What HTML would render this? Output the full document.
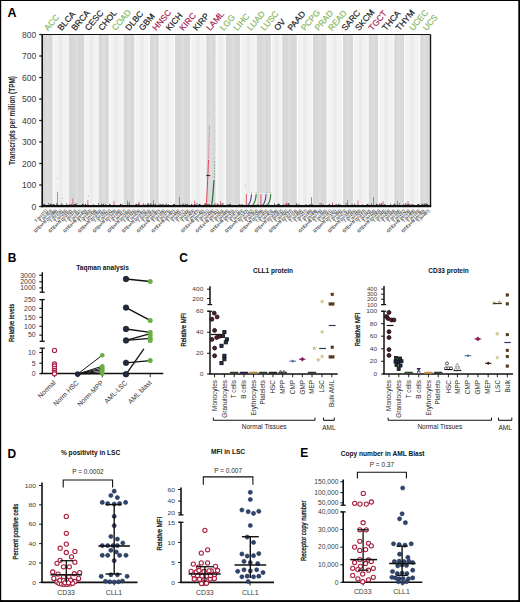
<!DOCTYPE html>
<html><head><meta charset="utf-8"><style>
html,body{margin:0;padding:0;background:#fff;overflow:hidden;}
svg{display:block;font-family:"Liberation Sans", sans-serif;}
</style></head><body>
<svg width="520" height="602" viewBox="0 0 520 602">
<rect x="0" y="0" width="520" height="602" fill="#000"/>
<rect x="1.2" y="1" width="517.1" height="599.1" fill="#fff"/>
<text x="7.60" y="17.40" font-size="12.5" text-anchor="start" fill="#000" font-weight="bold">A</text>
<rect x="42.20" y="34.50" width="388.30" height="172.00" fill="#f2f2f2"/>
<rect x="59.05" y="34.50" width="3.20" height="172.00" fill="#ebebeb"/>
<rect x="89.85" y="34.50" width="3.20" height="172.00" fill="#ebebeb"/>
<rect x="114.62" y="34.50" width="3.20" height="172.00" fill="#ebebeb"/>
<rect x="140.50" y="34.50" width="3.20" height="172.00" fill="#ebebeb"/>
<rect x="165.28" y="34.50" width="3.20" height="172.00" fill="#ebebeb"/>
<rect x="196.55" y="34.50" width="3.20" height="172.00" fill="#ebebeb"/>
<rect x="219.15" y="34.50" width="3.20" height="172.00" fill="#ebebeb"/>
<rect x="246.80" y="34.50" width="3.20" height="172.00" fill="#ebebeb"/>
<rect x="274.95" y="34.50" width="3.20" height="172.00" fill="#ebebeb"/>
<rect x="303.25" y="34.50" width="3.20" height="172.00" fill="#ebebeb"/>
<rect x="333.15" y="34.50" width="3.20" height="172.00" fill="#ebebeb"/>
<rect x="359.30" y="34.50" width="3.20" height="172.00" fill="#ebebeb"/>
<rect x="384.55" y="34.50" width="3.20" height="172.00" fill="#ebebeb"/>
<rect x="410.55" y="34.50" width="3.20" height="172.00" fill="#ebebeb"/>
<rect x="41.70" y="34.50" width="1.30" height="172.00" fill="#f9f9f9"/>
<rect x="52.50" y="34.50" width="1.30" height="172.00" fill="#f9f9f9"/>
<rect x="43.00" y="34.50" width="9.50" height="172.00" fill="#d8d8d8"/>
<rect x="46.25" y="34.50" width="3.00" height="172.00" fill="#dddddd"/>
<rect x="67.50" y="34.50" width="1.30" height="172.00" fill="#f9f9f9"/>
<rect x="84.20" y="34.50" width="1.30" height="172.00" fill="#f9f9f9"/>
<rect x="68.80" y="34.50" width="15.40" height="172.00" fill="#d8d8d8"/>
<rect x="75.00" y="34.50" width="3.00" height="172.00" fill="#dddddd"/>
<rect x="97.40" y="34.50" width="1.30" height="172.00" fill="#f9f9f9"/>
<rect x="108.75" y="34.50" width="1.30" height="172.00" fill="#f9f9f9"/>
<rect x="98.70" y="34.50" width="10.05" height="172.00" fill="#d8d8d8"/>
<rect x="102.22" y="34.50" width="3.00" height="172.00" fill="#dddddd"/>
<rect x="122.40" y="34.50" width="1.30" height="172.00" fill="#f9f9f9"/>
<rect x="134.20" y="34.50" width="1.30" height="172.00" fill="#f9f9f9"/>
<rect x="123.70" y="34.50" width="10.50" height="172.00" fill="#d8d8d8"/>
<rect x="127.45" y="34.50" width="3.00" height="172.00" fill="#dddddd"/>
<rect x="148.70" y="34.50" width="1.30" height="172.00" fill="#f9f9f9"/>
<rect x="158.75" y="34.50" width="1.30" height="172.00" fill="#f9f9f9"/>
<rect x="150.00" y="34.50" width="8.75" height="172.00" fill="#d8d8d8"/>
<rect x="152.88" y="34.50" width="3.00" height="172.00" fill="#dddddd"/>
<rect x="173.70" y="34.50" width="1.30" height="172.00" fill="#f9f9f9"/>
<rect x="190.00" y="34.50" width="1.30" height="172.00" fill="#f9f9f9"/>
<rect x="175.00" y="34.50" width="15.00" height="172.00" fill="#d8d8d8"/>
<rect x="181.00" y="34.50" width="3.00" height="172.00" fill="#dddddd"/>
<rect x="205.00" y="34.50" width="1.30" height="172.00" fill="#f9f9f9"/>
<rect x="215.50" y="34.50" width="1.30" height="172.00" fill="#f9f9f9"/>
<rect x="206.30" y="34.50" width="9.20" height="172.00" fill="#d8d8d8"/>
<rect x="209.40" y="34.50" width="3.00" height="172.00" fill="#dddddd"/>
<rect x="224.70" y="34.50" width="1.30" height="172.00" fill="#f9f9f9"/>
<rect x="240.00" y="34.50" width="1.30" height="172.00" fill="#f9f9f9"/>
<rect x="226.00" y="34.50" width="14.00" height="172.00" fill="#d8d8d8"/>
<rect x="231.50" y="34.50" width="3.00" height="172.00" fill="#dddddd"/>
<rect x="255.50" y="34.50" width="1.30" height="172.00" fill="#f9f9f9"/>
<rect x="270.80" y="34.50" width="1.30" height="172.00" fill="#f9f9f9"/>
<rect x="256.80" y="34.50" width="14.00" height="172.00" fill="#d8d8d8"/>
<rect x="262.30" y="34.50" width="3.00" height="172.00" fill="#dddddd"/>
<rect x="281.00" y="34.50" width="1.30" height="172.00" fill="#f9f9f9"/>
<rect x="296.70" y="34.50" width="1.30" height="172.00" fill="#f9f9f9"/>
<rect x="282.30" y="34.50" width="14.40" height="172.00" fill="#d8d8d8"/>
<rect x="288.00" y="34.50" width="3.00" height="172.00" fill="#dddddd"/>
<rect x="311.70" y="34.50" width="1.30" height="172.00" fill="#f9f9f9"/>
<rect x="326.50" y="34.50" width="1.30" height="172.00" fill="#f9f9f9"/>
<rect x="313.00" y="34.50" width="13.50" height="172.00" fill="#d8d8d8"/>
<rect x="318.25" y="34.50" width="3.00" height="172.00" fill="#dddddd"/>
<rect x="341.70" y="34.50" width="1.30" height="172.00" fill="#f9f9f9"/>
<rect x="353.00" y="34.50" width="1.30" height="172.00" fill="#f9f9f9"/>
<rect x="343.00" y="34.50" width="10.00" height="172.00" fill="#d8d8d8"/>
<rect x="346.50" y="34.50" width="3.00" height="172.00" fill="#dddddd"/>
<rect x="367.50" y="34.50" width="1.30" height="172.00" fill="#f9f9f9"/>
<rect x="378.00" y="34.50" width="1.30" height="172.00" fill="#f9f9f9"/>
<rect x="368.80" y="34.50" width="9.20" height="172.00" fill="#d8d8d8"/>
<rect x="371.90" y="34.50" width="3.00" height="172.00" fill="#dddddd"/>
<rect x="393.00" y="34.50" width="1.30" height="172.00" fill="#f9f9f9"/>
<rect x="404.00" y="34.50" width="1.30" height="172.00" fill="#f9f9f9"/>
<rect x="394.30" y="34.50" width="9.70" height="172.00" fill="#d8d8d8"/>
<rect x="397.65" y="34.50" width="3.00" height="172.00" fill="#dddddd"/>
<rect x="419.00" y="34.50" width="1.30" height="172.00" fill="#f9f9f9"/>
<rect x="429.40" y="34.50" width="1.30" height="172.00" fill="#f9f9f9"/>
<rect x="420.30" y="34.50" width="9.10" height="172.00" fill="#d8d8d8"/>
<rect x="423.35" y="34.50" width="3.00" height="172.00" fill="#dddddd"/>
<line x1="39.20" y1="206.50" x2="42.20" y2="206.50" stroke="#222" stroke-width="1.3"/>
<text x="36.20" y="209.50" font-size="8.5" text-anchor="end" fill="#3c3c3c">0</text>
<line x1="39.20" y1="185.00" x2="42.20" y2="185.00" stroke="#222" stroke-width="1.3"/>
<text x="36.20" y="188.00" font-size="8.5" text-anchor="end" fill="#3c3c3c">100</text>
<line x1="39.20" y1="163.50" x2="42.20" y2="163.50" stroke="#222" stroke-width="1.3"/>
<text x="36.20" y="166.50" font-size="8.5" text-anchor="end" fill="#3c3c3c">200</text>
<line x1="39.20" y1="142.00" x2="42.20" y2="142.00" stroke="#222" stroke-width="1.3"/>
<text x="36.20" y="145.00" font-size="8.5" text-anchor="end" fill="#3c3c3c">300</text>
<line x1="39.20" y1="120.50" x2="42.20" y2="120.50" stroke="#222" stroke-width="1.3"/>
<text x="36.20" y="123.50" font-size="8.5" text-anchor="end" fill="#3c3c3c">400</text>
<line x1="39.20" y1="99.00" x2="42.20" y2="99.00" stroke="#222" stroke-width="1.3"/>
<text x="36.20" y="102.00" font-size="8.5" text-anchor="end" fill="#3c3c3c">500</text>
<line x1="39.20" y1="77.50" x2="42.20" y2="77.50" stroke="#222" stroke-width="1.3"/>
<text x="36.20" y="80.50" font-size="8.5" text-anchor="end" fill="#3c3c3c">600</text>
<line x1="39.20" y1="56.00" x2="42.20" y2="56.00" stroke="#222" stroke-width="1.3"/>
<text x="36.20" y="59.00" font-size="8.5" text-anchor="end" fill="#3c3c3c">700</text>
<line x1="39.20" y1="34.50" x2="42.20" y2="34.50" stroke="#222" stroke-width="1.3"/>
<text x="36.20" y="37.50" font-size="8.5" text-anchor="end" fill="#3c3c3c">800</text>
<text x="15.30" y="120.50" font-size="9.4" text-anchor="middle" fill="#262626" font-weight="bold" transform="rotate(-90 15.30 120.50)" textLength="89.00" lengthAdjust="spacingAndGlyphs">Transcripts per million (TPM)</text>
<text x="48.10" y="31.30" font-size="8.5" text-anchor="start" fill="#86b862" transform="rotate(-50 48.10 31.30)" stroke="#86b862" stroke-width="0.2">ACC</text>
<text x="61.62" y="31.30" font-size="8.5" text-anchor="start" fill="#1a1a1a" transform="rotate(-50 61.62 31.30)" stroke="#1a1a1a" stroke-width="0.2">BLCA</text>
<text x="75.14" y="31.30" font-size="8.5" text-anchor="start" fill="#1a1a1a" transform="rotate(-50 75.14 31.30)" stroke="#1a1a1a" stroke-width="0.2">BRCA</text>
<text x="88.66" y="31.30" font-size="8.5" text-anchor="start" fill="#1a1a1a" transform="rotate(-50 88.66 31.30)" stroke="#1a1a1a" stroke-width="0.2">CESC</text>
<text x="102.18" y="31.30" font-size="8.5" text-anchor="start" fill="#1a1a1a" transform="rotate(-50 102.18 31.30)" stroke="#1a1a1a" stroke-width="0.2">CHOL</text>
<text x="115.70" y="31.30" font-size="8.5" text-anchor="start" fill="#86b862" transform="rotate(-50 115.70 31.30)" stroke="#86b862" stroke-width="0.2">COAD</text>
<text x="129.22" y="31.30" font-size="8.5" text-anchor="start" fill="#1a1a1a" transform="rotate(-50 129.22 31.30)" stroke="#1a1a1a" stroke-width="0.2">DLBC</text>
<text x="142.74" y="31.30" font-size="8.5" text-anchor="start" fill="#1a1a1a" transform="rotate(-50 142.74 31.30)" stroke="#1a1a1a" stroke-width="0.2">GBM</text>
<text x="156.26" y="31.30" font-size="8.5" text-anchor="start" fill="#a8234f" transform="rotate(-50 156.26 31.30)" stroke="#a8234f" stroke-width="0.2">HNSC</text>
<text x="169.78" y="31.30" font-size="8.5" text-anchor="start" fill="#1a1a1a" transform="rotate(-50 169.78 31.30)" stroke="#1a1a1a" stroke-width="0.2">KICH</text>
<text x="183.30" y="31.30" font-size="8.5" text-anchor="start" fill="#a8234f" transform="rotate(-50 183.30 31.30)" stroke="#a8234f" stroke-width="0.2">KIRC</text>
<text x="196.82" y="31.30" font-size="8.5" text-anchor="start" fill="#1a1a1a" transform="rotate(-50 196.82 31.30)" stroke="#1a1a1a" stroke-width="0.2">KIRP</text>
<text x="210.34" y="31.30" font-size="8.5" text-anchor="start" fill="#a8234f" transform="rotate(-50 210.34 31.30)" stroke="#a8234f" stroke-width="0.2">LAML</text>
<text x="223.86" y="31.30" font-size="8.5" text-anchor="start" fill="#86b862" transform="rotate(-50 223.86 31.30)" stroke="#86b862" stroke-width="0.2">LGG</text>
<text x="237.38" y="31.30" font-size="8.5" text-anchor="start" fill="#86b862" transform="rotate(-50 237.38 31.30)" stroke="#86b862" stroke-width="0.2">LIHC</text>
<text x="250.90" y="31.30" font-size="8.5" text-anchor="start" fill="#86b862" transform="rotate(-50 250.90 31.30)" stroke="#86b862" stroke-width="0.2">LUAD</text>
<text x="264.42" y="31.30" font-size="8.5" text-anchor="start" fill="#86b862" transform="rotate(-50 264.42 31.30)" stroke="#86b862" stroke-width="0.2">LUSC</text>
<text x="277.94" y="31.30" font-size="8.5" text-anchor="start" fill="#1a1a1a" transform="rotate(-50 277.94 31.30)" stroke="#1a1a1a" stroke-width="0.2">OV</text>
<text x="291.46" y="31.30" font-size="8.5" text-anchor="start" fill="#1a1a1a" transform="rotate(-50 291.46 31.30)" stroke="#1a1a1a" stroke-width="0.2">PAAD</text>
<text x="304.98" y="31.30" font-size="8.5" text-anchor="start" fill="#86b862" transform="rotate(-50 304.98 31.30)" stroke="#86b862" stroke-width="0.2">PCPG</text>
<text x="318.50" y="31.30" font-size="8.5" text-anchor="start" fill="#86b862" transform="rotate(-50 318.50 31.30)" stroke="#86b862" stroke-width="0.2">PRAD</text>
<text x="332.02" y="31.30" font-size="8.5" text-anchor="start" fill="#86b862" transform="rotate(-50 332.02 31.30)" stroke="#86b862" stroke-width="0.2">READ</text>
<text x="345.54" y="31.30" font-size="8.5" text-anchor="start" fill="#1a1a1a" transform="rotate(-50 345.54 31.30)" stroke="#1a1a1a" stroke-width="0.2">SARC</text>
<text x="359.06" y="31.30" font-size="8.5" text-anchor="start" fill="#1a1a1a" transform="rotate(-50 359.06 31.30)" stroke="#1a1a1a" stroke-width="0.2">SKCM</text>
<text x="372.58" y="31.30" font-size="8.5" text-anchor="start" fill="#a8234f" transform="rotate(-50 372.58 31.30)" stroke="#a8234f" stroke-width="0.2">TGCT</text>
<text x="386.10" y="31.30" font-size="8.5" text-anchor="start" fill="#1a1a1a" transform="rotate(-50 386.10 31.30)" stroke="#1a1a1a" stroke-width="0.2">THCA</text>
<text x="399.62" y="31.30" font-size="8.5" text-anchor="start" fill="#1a1a1a" transform="rotate(-50 399.62 31.30)" stroke="#1a1a1a" stroke-width="0.2">THYM</text>
<text x="413.14" y="31.30" font-size="8.5" text-anchor="start" fill="#86b862" transform="rotate(-50 413.14 31.30)" stroke="#86b862" stroke-width="0.2">UCEC</text>
<text x="426.66" y="31.30" font-size="8.5" text-anchor="start" fill="#86b862" transform="rotate(-50 426.66 31.30)" stroke="#86b862" stroke-width="0.2">UCS</text>
<text x="47.80" y="211.20" font-size="4.7" text-anchor="end" fill="#444" font-weight="bold" transform="rotate(-45 47.80 211.20)" textLength="16.00" lengthAdjust="spacingAndGlyphs">T (n=171)</text>
<text x="52.70" y="211.20" font-size="4.7" text-anchor="end" fill="#444" font-weight="bold" transform="rotate(-45 52.70 211.20)" textLength="16.00" lengthAdjust="spacingAndGlyphs">T (n=353)</text>
<text x="57.60" y="211.20" font-size="4.7" text-anchor="end" fill="#444" font-weight="bold" transform="rotate(-45 57.60 211.20)" textLength="31.00" lengthAdjust="spacingAndGlyphs">GTEx+N (n=288)</text>
<text x="62.50" y="211.20" font-size="4.7" text-anchor="end" fill="#444" font-weight="bold" transform="rotate(-45 62.50 211.20)" textLength="16.00" lengthAdjust="spacingAndGlyphs">T (n=116)</text>
<text x="67.40" y="211.20" font-size="4.7" text-anchor="end" fill="#444" font-weight="bold" transform="rotate(-45 67.40 211.20)" textLength="16.00" lengthAdjust="spacingAndGlyphs">T (n=239)</text>
<text x="72.30" y="211.20" font-size="4.7" text-anchor="end" fill="#444" font-weight="bold" transform="rotate(-45 72.30 211.20)" textLength="31.00" lengthAdjust="spacingAndGlyphs">GTEx+N (n=252)</text>
<text x="77.20" y="211.20" font-size="4.7" text-anchor="end" fill="#444" font-weight="bold" transform="rotate(-45 77.20 211.20)" textLength="16.00" lengthAdjust="spacingAndGlyphs">T (n=370)</text>
<text x="82.10" y="211.20" font-size="4.7" text-anchor="end" fill="#444" font-weight="bold" transform="rotate(-45 82.10 211.20)" textLength="16.00" lengthAdjust="spacingAndGlyphs">T (n=347)</text>
<text x="87.00" y="211.20" font-size="4.7" text-anchor="end" fill="#444" font-weight="bold" transform="rotate(-45 87.00 211.20)" textLength="31.00" lengthAdjust="spacingAndGlyphs">GTEx+N (n=43)</text>
<text x="91.90" y="211.20" font-size="4.7" text-anchor="end" fill="#444" font-weight="bold" transform="rotate(-45 91.90 211.20)" textLength="16.00" lengthAdjust="spacingAndGlyphs">T (n=360)</text>
<text x="96.80" y="211.20" font-size="4.7" text-anchor="end" fill="#444" font-weight="bold" transform="rotate(-45 96.80 211.20)" textLength="16.00" lengthAdjust="spacingAndGlyphs">T (n=56)</text>
<text x="101.70" y="211.20" font-size="4.7" text-anchor="end" fill="#444" font-weight="bold" transform="rotate(-45 101.70 211.20)" textLength="31.00" lengthAdjust="spacingAndGlyphs">GTEx+N (n=250)</text>
<text x="106.60" y="211.20" font-size="4.7" text-anchor="end" fill="#444" font-weight="bold" transform="rotate(-45 106.60 211.20)" textLength="16.00" lengthAdjust="spacingAndGlyphs">T (n=182)</text>
<text x="111.50" y="211.20" font-size="4.7" text-anchor="end" fill="#444" font-weight="bold" transform="rotate(-45 111.50 211.20)" textLength="16.00" lengthAdjust="spacingAndGlyphs">T (n=332)</text>
<text x="116.40" y="211.20" font-size="4.7" text-anchor="end" fill="#444" font-weight="bold" transform="rotate(-45 116.40 211.20)" textLength="31.00" lengthAdjust="spacingAndGlyphs">GTEx+N (n=129)</text>
<text x="121.30" y="211.20" font-size="4.7" text-anchor="end" fill="#444" font-weight="bold" transform="rotate(-45 121.30 211.20)" textLength="16.00" lengthAdjust="spacingAndGlyphs">T (n=148)</text>
<text x="126.20" y="211.20" font-size="4.7" text-anchor="end" fill="#444" font-weight="bold" transform="rotate(-45 126.20 211.20)" textLength="16.00" lengthAdjust="spacingAndGlyphs">T (n=417)</text>
<text x="131.10" y="211.20" font-size="4.7" text-anchor="end" fill="#444" font-weight="bold" transform="rotate(-45 131.10 211.20)" textLength="31.00" lengthAdjust="spacingAndGlyphs">GTEx+N (n=250)</text>
<text x="136.00" y="211.20" font-size="4.7" text-anchor="end" fill="#444" font-weight="bold" transform="rotate(-45 136.00 211.20)" textLength="16.00" lengthAdjust="spacingAndGlyphs">T (n=326)</text>
<text x="140.90" y="211.20" font-size="4.7" text-anchor="end" fill="#444" font-weight="bold" transform="rotate(-45 140.90 211.20)" textLength="16.00" lengthAdjust="spacingAndGlyphs">T (n=478)</text>
<text x="145.80" y="211.20" font-size="4.7" text-anchor="end" fill="#444" font-weight="bold" transform="rotate(-45 145.80 211.20)" textLength="31.00" lengthAdjust="spacingAndGlyphs">GTEx+N (n=291)</text>
<text x="150.70" y="211.20" font-size="4.7" text-anchor="end" fill="#444" font-weight="bold" transform="rotate(-45 150.70 211.20)" textLength="16.00" lengthAdjust="spacingAndGlyphs">T (n=293)</text>
<text x="155.60" y="211.20" font-size="4.7" text-anchor="end" fill="#444" font-weight="bold" transform="rotate(-45 155.60 211.20)" textLength="16.00" lengthAdjust="spacingAndGlyphs">T (n=253)</text>
<text x="160.50" y="211.20" font-size="4.7" text-anchor="end" fill="#444" font-weight="bold" transform="rotate(-45 160.50 211.20)" textLength="31.00" lengthAdjust="spacingAndGlyphs">GTEx+N (n=87)</text>
<text x="165.40" y="211.20" font-size="4.7" text-anchor="end" fill="#444" font-weight="bold" transform="rotate(-45 165.40 211.20)" textLength="16.00" lengthAdjust="spacingAndGlyphs">T (n=168)</text>
<text x="170.30" y="211.20" font-size="4.7" text-anchor="end" fill="#444" font-weight="bold" transform="rotate(-45 170.30 211.20)" textLength="16.00" lengthAdjust="spacingAndGlyphs">T (n=375)</text>
<text x="175.20" y="211.20" font-size="4.7" text-anchor="end" fill="#444" font-weight="bold" transform="rotate(-45 175.20 211.20)" textLength="31.00" lengthAdjust="spacingAndGlyphs">GTEx+N (n=87)</text>
<text x="180.10" y="211.20" font-size="4.7" text-anchor="end" fill="#444" font-weight="bold" transform="rotate(-45 180.10 211.20)" textLength="16.00" lengthAdjust="spacingAndGlyphs">T (n=494)</text>
<text x="185.00" y="211.20" font-size="4.7" text-anchor="end" fill="#444" font-weight="bold" transform="rotate(-45 185.00 211.20)" textLength="16.00" lengthAdjust="spacingAndGlyphs">T (n=317)</text>
<text x="189.90" y="211.20" font-size="4.7" text-anchor="end" fill="#444" font-weight="bold" transform="rotate(-45 189.90 211.20)" textLength="16.00" lengthAdjust="spacingAndGlyphs">T (n=249)</text>
<text x="194.80" y="211.20" font-size="4.7" text-anchor="end" fill="#444" font-weight="bold" transform="rotate(-45 194.80 211.20)" textLength="16.00" lengthAdjust="spacingAndGlyphs">T (n=429)</text>
<text x="199.70" y="211.20" font-size="4.7" text-anchor="end" fill="#444" font-weight="bold" transform="rotate(-45 199.70 211.20)" textLength="16.00" lengthAdjust="spacingAndGlyphs">T (n=57)</text>
<text x="204.60" y="211.20" font-size="4.7" text-anchor="end" fill="#444" font-weight="bold" transform="rotate(-45 204.60 211.20)" textLength="31.00" lengthAdjust="spacingAndGlyphs">GTEx+N (n=42)</text>
<text x="209.50" y="211.20" font-size="4.7" text-anchor="end" fill="#444" font-weight="bold" transform="rotate(-45 209.50 211.20)" textLength="16.00" lengthAdjust="spacingAndGlyphs">T (n=131)</text>
<text x="214.40" y="211.20" font-size="4.7" text-anchor="end" fill="#444" font-weight="bold" transform="rotate(-45 214.40 211.20)" textLength="16.00" lengthAdjust="spacingAndGlyphs">T (n=438)</text>
<text x="219.30" y="211.20" font-size="4.7" text-anchor="end" fill="#444" font-weight="bold" transform="rotate(-45 219.30 211.20)" textLength="31.00" lengthAdjust="spacingAndGlyphs">GTEx+N (n=31)</text>
<text x="224.20" y="211.20" font-size="4.7" text-anchor="end" fill="#444" font-weight="bold" transform="rotate(-45 224.20 211.20)" textLength="16.00" lengthAdjust="spacingAndGlyphs">T (n=204)</text>
<text x="229.10" y="211.20" font-size="4.7" text-anchor="end" fill="#444" font-weight="bold" transform="rotate(-45 229.10 211.20)" textLength="16.00" lengthAdjust="spacingAndGlyphs">T (n=449)</text>
<text x="234.00" y="211.20" font-size="4.7" text-anchor="end" fill="#444" font-weight="bold" transform="rotate(-45 234.00 211.20)" textLength="31.00" lengthAdjust="spacingAndGlyphs">GTEx+N (n=25)</text>
<text x="238.90" y="211.20" font-size="4.7" text-anchor="end" fill="#444" font-weight="bold" transform="rotate(-45 238.90 211.20)" textLength="16.00" lengthAdjust="spacingAndGlyphs">T (n=471)</text>
<text x="243.80" y="211.20" font-size="4.7" text-anchor="end" fill="#444" font-weight="bold" transform="rotate(-45 243.80 211.20)" textLength="16.00" lengthAdjust="spacingAndGlyphs">T (n=493)</text>
<text x="248.70" y="211.20" font-size="4.7" text-anchor="end" fill="#444" font-weight="bold" transform="rotate(-45 248.70 211.20)" textLength="31.00" lengthAdjust="spacingAndGlyphs">GTEx+N (n=147)</text>
<text x="253.60" y="211.20" font-size="4.7" text-anchor="end" fill="#444" font-weight="bold" transform="rotate(-45 253.60 211.20)" textLength="16.00" lengthAdjust="spacingAndGlyphs">T (n=292)</text>
<text x="258.50" y="211.20" font-size="4.7" text-anchor="end" fill="#444" font-weight="bold" transform="rotate(-45 258.50 211.20)" textLength="16.00" lengthAdjust="spacingAndGlyphs">T (n=354)</text>
<text x="263.40" y="211.20" font-size="4.7" text-anchor="end" fill="#444" font-weight="bold" transform="rotate(-45 263.40 211.20)" textLength="31.00" lengthAdjust="spacingAndGlyphs">GTEx+N (n=208)</text>
<text x="268.30" y="211.20" font-size="4.7" text-anchor="end" fill="#444" font-weight="bold" transform="rotate(-45 268.30 211.20)" textLength="16.00" lengthAdjust="spacingAndGlyphs">T (n=415)</text>
<text x="273.20" y="211.20" font-size="4.7" text-anchor="end" fill="#444" font-weight="bold" transform="rotate(-45 273.20 211.20)" textLength="16.00" lengthAdjust="spacingAndGlyphs">T (n=453)</text>
<text x="278.10" y="211.20" font-size="4.7" text-anchor="end" fill="#444" font-weight="bold" transform="rotate(-45 278.10 211.20)" textLength="31.00" lengthAdjust="spacingAndGlyphs">GTEx+N (n=228)</text>
<text x="283.00" y="211.20" font-size="4.7" text-anchor="end" fill="#444" font-weight="bold" transform="rotate(-45 283.00 211.20)" textLength="16.00" lengthAdjust="spacingAndGlyphs">T (n=252)</text>
<text x="287.90" y="211.20" font-size="4.7" text-anchor="end" fill="#444" font-weight="bold" transform="rotate(-45 287.90 211.20)" textLength="16.00" lengthAdjust="spacingAndGlyphs">T (n=422)</text>
<text x="292.80" y="211.20" font-size="4.7" text-anchor="end" fill="#444" font-weight="bold" transform="rotate(-45 292.80 211.20)" textLength="31.00" lengthAdjust="spacingAndGlyphs">GTEx+N (n=237)</text>
<text x="297.70" y="211.20" font-size="4.7" text-anchor="end" fill="#444" font-weight="bold" transform="rotate(-45 297.70 211.20)" textLength="16.00" lengthAdjust="spacingAndGlyphs">T (n=118)</text>
<text x="302.60" y="211.20" font-size="4.7" text-anchor="end" fill="#444" font-weight="bold" transform="rotate(-45 302.60 211.20)" textLength="16.00" lengthAdjust="spacingAndGlyphs">T (n=499)</text>
<text x="307.50" y="211.20" font-size="4.7" text-anchor="end" fill="#444" font-weight="bold" transform="rotate(-45 307.50 211.20)" textLength="16.00" lengthAdjust="spacingAndGlyphs">T (n=237)</text>
<text x="312.40" y="211.20" font-size="4.7" text-anchor="end" fill="#444" font-weight="bold" transform="rotate(-45 312.40 211.20)" textLength="16.00" lengthAdjust="spacingAndGlyphs">T (n=99)</text>
<text x="317.30" y="211.20" font-size="4.7" text-anchor="end" fill="#444" font-weight="bold" transform="rotate(-45 317.30 211.20)" textLength="16.00" lengthAdjust="spacingAndGlyphs">T (n=68)</text>
<text x="322.20" y="211.20" font-size="4.7" text-anchor="end" fill="#444" font-weight="bold" transform="rotate(-45 322.20 211.20)" textLength="31.00" lengthAdjust="spacingAndGlyphs">GTEx+N (n=79)</text>
<text x="327.10" y="211.20" font-size="4.7" text-anchor="end" fill="#444" font-weight="bold" transform="rotate(-45 327.10 211.20)" textLength="16.00" lengthAdjust="spacingAndGlyphs">T (n=303)</text>
<text x="332.00" y="211.20" font-size="4.7" text-anchor="end" fill="#444" font-weight="bold" transform="rotate(-45 332.00 211.20)" textLength="16.00" lengthAdjust="spacingAndGlyphs">T (n=161)</text>
<text x="336.90" y="211.20" font-size="4.7" text-anchor="end" fill="#444" font-weight="bold" transform="rotate(-45 336.90 211.20)" textLength="31.00" lengthAdjust="spacingAndGlyphs">GTEx+N (n=142)</text>
<text x="341.80" y="211.20" font-size="4.7" text-anchor="end" fill="#444" font-weight="bold" transform="rotate(-45 341.80 211.20)" textLength="16.00" lengthAdjust="spacingAndGlyphs">T (n=394)</text>
<text x="346.70" y="211.20" font-size="4.7" text-anchor="end" fill="#444" font-weight="bold" transform="rotate(-45 346.70 211.20)" textLength="16.00" lengthAdjust="spacingAndGlyphs">T (n=273)</text>
<text x="351.60" y="211.20" font-size="4.7" text-anchor="end" fill="#444" font-weight="bold" transform="rotate(-45 351.60 211.20)" textLength="31.00" lengthAdjust="spacingAndGlyphs">GTEx+N (n=164)</text>
<text x="356.50" y="211.20" font-size="4.7" text-anchor="end" fill="#444" font-weight="bold" transform="rotate(-45 356.50 211.20)" textLength="16.00" lengthAdjust="spacingAndGlyphs">T (n=265)</text>
<text x="361.40" y="211.20" font-size="4.7" text-anchor="end" fill="#444" font-weight="bold" transform="rotate(-45 361.40 211.20)" textLength="16.00" lengthAdjust="spacingAndGlyphs">T (n=309)</text>
<text x="366.30" y="211.20" font-size="4.7" text-anchor="end" fill="#444" font-weight="bold" transform="rotate(-45 366.30 211.20)" textLength="31.00" lengthAdjust="spacingAndGlyphs">GTEx+N (n=207)</text>
<text x="371.20" y="211.20" font-size="4.7" text-anchor="end" fill="#444" font-weight="bold" transform="rotate(-45 371.20 211.20)" textLength="16.00" lengthAdjust="spacingAndGlyphs">T (n=343)</text>
<text x="376.10" y="211.20" font-size="4.7" text-anchor="end" fill="#444" font-weight="bold" transform="rotate(-45 376.10 211.20)" textLength="16.00" lengthAdjust="spacingAndGlyphs">T (n=229)</text>
<text x="381.00" y="211.20" font-size="4.7" text-anchor="end" fill="#444" font-weight="bold" transform="rotate(-45 381.00 211.20)" textLength="31.00" lengthAdjust="spacingAndGlyphs">GTEx+N (n=283)</text>
<text x="385.90" y="211.20" font-size="4.7" text-anchor="end" fill="#444" font-weight="bold" transform="rotate(-45 385.90 211.20)" textLength="16.00" lengthAdjust="spacingAndGlyphs">T (n=349)</text>
<text x="390.80" y="211.20" font-size="4.7" text-anchor="end" fill="#444" font-weight="bold" transform="rotate(-45 390.80 211.20)" textLength="16.00" lengthAdjust="spacingAndGlyphs">T (n=258)</text>
<text x="395.70" y="211.20" font-size="4.7" text-anchor="end" fill="#444" font-weight="bold" transform="rotate(-45 395.70 211.20)" textLength="16.00" lengthAdjust="spacingAndGlyphs">T (n=349)</text>
<text x="400.60" y="211.20" font-size="4.7" text-anchor="end" fill="#444" font-weight="bold" transform="rotate(-45 400.60 211.20)" textLength="16.00" lengthAdjust="spacingAndGlyphs">T (n=168)</text>
<text x="405.50" y="211.20" font-size="4.7" text-anchor="end" fill="#444" font-weight="bold" transform="rotate(-45 405.50 211.20)" textLength="16.00" lengthAdjust="spacingAndGlyphs">T (n=222)</text>
<text x="410.40" y="211.20" font-size="4.7" text-anchor="end" fill="#444" font-weight="bold" transform="rotate(-45 410.40 211.20)" textLength="31.00" lengthAdjust="spacingAndGlyphs">GTEx+N (n=24)</text>
<text x="415.30" y="211.20" font-size="4.7" text-anchor="end" fill="#444" font-weight="bold" transform="rotate(-45 415.30 211.20)" textLength="16.00" lengthAdjust="spacingAndGlyphs">T (n=488)</text>
<text x="420.20" y="211.20" font-size="4.7" text-anchor="end" fill="#444" font-weight="bold" transform="rotate(-45 420.20 211.20)" textLength="16.00" lengthAdjust="spacingAndGlyphs">T (n=193)</text>
<text x="425.10" y="211.20" font-size="4.7" text-anchor="end" fill="#444" font-weight="bold" transform="rotate(-45 425.10 211.20)" textLength="31.00" lengthAdjust="spacingAndGlyphs">GTEx+N (n=93)</text>
<text x="430.00" y="211.20" font-size="4.7" text-anchor="end" fill="#444" font-weight="bold" transform="rotate(-45 430.00 211.20)" textLength="16.00" lengthAdjust="spacingAndGlyphs">T (n=407)</text>
<circle cx="168.30" cy="204.82" r="0.6" fill="#222" stroke="none" stroke-width="1"/>
<circle cx="71.18" cy="204.36" r="0.6" fill="#5a2a3a" stroke="none" stroke-width="1"/>
<circle cx="268.33" cy="203.91" r="0.6" fill="#333" stroke="none" stroke-width="1"/>
<circle cx="57.68" cy="204.48" r="0.6" fill="#222" stroke="none" stroke-width="1"/>
<circle cx="136.17" cy="204.34" r="0.6" fill="#222" stroke="none" stroke-width="1"/>
<circle cx="362.61" cy="204.85" r="0.6" fill="#333" stroke="none" stroke-width="1"/>
<circle cx="286.81" cy="204.30" r="0.6" fill="#222" stroke="none" stroke-width="1"/>
<circle cx="266.13" cy="204.52" r="0.6" fill="#333" stroke="none" stroke-width="1"/>
<circle cx="61.19" cy="203.97" r="0.6" fill="#5a2a3a" stroke="none" stroke-width="1"/>
<circle cx="205.11" cy="204.35" r="0.6" fill="#444" stroke="none" stroke-width="1"/>
<circle cx="162.37" cy="204.02" r="0.6" fill="#333" stroke="none" stroke-width="1"/>
<circle cx="83.01" cy="204.31" r="0.6" fill="#333" stroke="none" stroke-width="1"/>
<circle cx="187.06" cy="204.34" r="0.6" fill="#222" stroke="none" stroke-width="1"/>
<circle cx="261.22" cy="204.26" r="0.6" fill="#2a3a2a" stroke="none" stroke-width="1"/>
<circle cx="306.04" cy="204.49" r="0.6" fill="#5a2a3a" stroke="none" stroke-width="1"/>
<circle cx="223.06" cy="203.89" r="0.6" fill="#5a2a3a" stroke="none" stroke-width="1"/>
<circle cx="159.00" cy="204.05" r="0.6" fill="#333" stroke="none" stroke-width="1"/>
<circle cx="74.82" cy="204.64" r="0.6" fill="#2a3a2a" stroke="none" stroke-width="1"/>
<circle cx="381.27" cy="204.12" r="0.6" fill="#5a2a3a" stroke="none" stroke-width="1"/>
<circle cx="278.44" cy="204.91" r="0.6" fill="#444" stroke="none" stroke-width="1"/>
<circle cx="204.72" cy="204.09" r="0.6" fill="#333" stroke="none" stroke-width="1"/>
<circle cx="403.72" cy="204.49" r="0.6" fill="#222" stroke="none" stroke-width="1"/>
<circle cx="338.55" cy="204.31" r="0.6" fill="#5a2a3a" stroke="none" stroke-width="1"/>
<circle cx="174.59" cy="204.58" r="0.6" fill="#2a3a2a" stroke="none" stroke-width="1"/>
<circle cx="267.21" cy="204.45" r="0.6" fill="#222" stroke="none" stroke-width="1"/>
<circle cx="408.13" cy="204.43" r="0.6" fill="#222" stroke="none" stroke-width="1"/>
<circle cx="66.64" cy="204.16" r="0.6" fill="#444" stroke="none" stroke-width="1"/>
<circle cx="426.83" cy="204.01" r="0.6" fill="#5a2a3a" stroke="none" stroke-width="1"/>
<circle cx="320.03" cy="203.94" r="0.6" fill="#5a2a3a" stroke="none" stroke-width="1"/>
<circle cx="51.92" cy="204.45" r="0.6" fill="#333" stroke="none" stroke-width="1"/>
<circle cx="279.20" cy="204.41" r="0.6" fill="#333" stroke="none" stroke-width="1"/>
<circle cx="339.97" cy="204.84" r="0.6" fill="#333" stroke="none" stroke-width="1"/>
<circle cx="196.91" cy="203.90" r="0.6" fill="#2a3a2a" stroke="none" stroke-width="1"/>
<circle cx="74.33" cy="204.46" r="0.6" fill="#444" stroke="none" stroke-width="1"/>
<circle cx="150.53" cy="204.84" r="0.6" fill="#2a3a2a" stroke="none" stroke-width="1"/>
<circle cx="376.96" cy="204.67" r="0.6" fill="#2a3a2a" stroke="none" stroke-width="1"/>
<circle cx="424.27" cy="204.18" r="0.6" fill="#2a3a2a" stroke="none" stroke-width="1"/>
<circle cx="413.17" cy="204.82" r="0.6" fill="#333" stroke="none" stroke-width="1"/>
<circle cx="101.65" cy="204.21" r="0.6" fill="#222" stroke="none" stroke-width="1"/>
<circle cx="230.54" cy="204.29" r="0.6" fill="#5a2a3a" stroke="none" stroke-width="1"/>
<circle cx="152.11" cy="204.83" r="0.6" fill="#444" stroke="none" stroke-width="1"/>
<circle cx="185.84" cy="204.32" r="0.6" fill="#333" stroke="none" stroke-width="1"/>
<circle cx="309.94" cy="204.38" r="0.6" fill="#444" stroke="none" stroke-width="1"/>
<circle cx="296.21" cy="204.11" r="0.6" fill="#2a3a2a" stroke="none" stroke-width="1"/>
<circle cx="390.69" cy="204.06" r="0.6" fill="#444" stroke="none" stroke-width="1"/>
<circle cx="194.78" cy="204.52" r="0.6" fill="#222" stroke="none" stroke-width="1"/>
<circle cx="229.21" cy="204.52" r="0.6" fill="#333" stroke="none" stroke-width="1"/>
<circle cx="69.22" cy="204.75" r="0.6" fill="#333" stroke="none" stroke-width="1"/>
<circle cx="85.67" cy="204.28" r="0.6" fill="#222" stroke="none" stroke-width="1"/>
<circle cx="43.29" cy="204.82" r="0.6" fill="#222" stroke="none" stroke-width="1"/>
<circle cx="409.78" cy="204.26" r="0.6" fill="#222" stroke="none" stroke-width="1"/>
<circle cx="380.95" cy="204.26" r="0.6" fill="#333" stroke="none" stroke-width="1"/>
<circle cx="288.27" cy="203.85" r="0.6" fill="#444" stroke="none" stroke-width="1"/>
<circle cx="183.88" cy="204.85" r="0.6" fill="#2a3a2a" stroke="none" stroke-width="1"/>
<circle cx="426.84" cy="204.44" r="0.6" fill="#2a3a2a" stroke="none" stroke-width="1"/>
<circle cx="163.67" cy="204.83" r="0.6" fill="#5a2a3a" stroke="none" stroke-width="1"/>
<circle cx="329.20" cy="204.43" r="0.6" fill="#333" stroke="none" stroke-width="1"/>
<circle cx="242.66" cy="204.75" r="0.6" fill="#444" stroke="none" stroke-width="1"/>
<circle cx="182.94" cy="204.17" r="0.6" fill="#222" stroke="none" stroke-width="1"/>
<circle cx="336.07" cy="204.64" r="0.6" fill="#222" stroke="none" stroke-width="1"/>
<circle cx="312.14" cy="204.69" r="0.6" fill="#5a2a3a" stroke="none" stroke-width="1"/>
<circle cx="394.06" cy="204.57" r="0.6" fill="#333" stroke="none" stroke-width="1"/>
<circle cx="248.94" cy="204.07" r="0.6" fill="#5a2a3a" stroke="none" stroke-width="1"/>
<circle cx="289.06" cy="204.26" r="0.6" fill="#333" stroke="none" stroke-width="1"/>
<circle cx="354.59" cy="204.02" r="0.6" fill="#333" stroke="none" stroke-width="1"/>
<circle cx="120.43" cy="204.41" r="0.6" fill="#222" stroke="none" stroke-width="1"/>
<circle cx="425.48" cy="204.05" r="0.6" fill="#2a3a2a" stroke="none" stroke-width="1"/>
<circle cx="143.32" cy="204.17" r="0.6" fill="#5a2a3a" stroke="none" stroke-width="1"/>
<circle cx="215.96" cy="203.88" r="0.6" fill="#5a2a3a" stroke="none" stroke-width="1"/>
<circle cx="412.12" cy="204.56" r="0.6" fill="#333" stroke="none" stroke-width="1"/>
<circle cx="82.66" cy="204.44" r="0.6" fill="#5a2a3a" stroke="none" stroke-width="1"/>
<circle cx="122.15" cy="204.25" r="0.6" fill="#444" stroke="none" stroke-width="1"/>
<circle cx="367.86" cy="204.42" r="0.6" fill="#5a2a3a" stroke="none" stroke-width="1"/>
<circle cx="352.10" cy="204.90" r="0.6" fill="#222" stroke="none" stroke-width="1"/>
<circle cx="394.65" cy="204.06" r="0.6" fill="#333" stroke="none" stroke-width="1"/>
<circle cx="227.86" cy="204.79" r="0.6" fill="#5a2a3a" stroke="none" stroke-width="1"/>
<circle cx="76.71" cy="203.86" r="0.6" fill="#2a3a2a" stroke="none" stroke-width="1"/>
<circle cx="222.12" cy="204.11" r="0.6" fill="#222" stroke="none" stroke-width="1"/>
<circle cx="323.19" cy="204.80" r="0.6" fill="#333" stroke="none" stroke-width="1"/>
<circle cx="53.84" cy="204.29" r="0.6" fill="#2a3a2a" stroke="none" stroke-width="1"/>
<circle cx="354.75" cy="204.82" r="0.6" fill="#444" stroke="none" stroke-width="1"/>
<circle cx="421.89" cy="204.21" r="0.6" fill="#5a2a3a" stroke="none" stroke-width="1"/>
<circle cx="103.43" cy="204.34" r="0.6" fill="#222" stroke="none" stroke-width="1"/>
<circle cx="48.70" cy="203.83" r="0.6" fill="#222" stroke="none" stroke-width="1"/>
<circle cx="246.62" cy="203.88" r="0.6" fill="#2a3a2a" stroke="none" stroke-width="1"/>
<circle cx="424.30" cy="204.77" r="0.6" fill="#333" stroke="none" stroke-width="1"/>
<circle cx="54.01" cy="204.74" r="0.6" fill="#444" stroke="none" stroke-width="1"/>
<circle cx="136.12" cy="204.30" r="0.6" fill="#5a2a3a" stroke="none" stroke-width="1"/>
<circle cx="253.48" cy="204.00" r="0.6" fill="#222" stroke="none" stroke-width="1"/>
<circle cx="394.74" cy="204.58" r="0.6" fill="#2a3a2a" stroke="none" stroke-width="1"/>
<circle cx="299.11" cy="204.02" r="0.6" fill="#444" stroke="none" stroke-width="1"/>
<circle cx="205.69" cy="203.90" r="0.6" fill="#444" stroke="none" stroke-width="1"/>
<circle cx="93.71" cy="204.82" r="0.6" fill="#444" stroke="none" stroke-width="1"/>
<circle cx="50.43" cy="204.47" r="0.6" fill="#333" stroke="none" stroke-width="1"/>
<circle cx="278.28" cy="204.07" r="0.6" fill="#333" stroke="none" stroke-width="1"/>
<circle cx="109.78" cy="204.43" r="0.6" fill="#222" stroke="none" stroke-width="1"/>
<circle cx="258.17" cy="204.61" r="0.6" fill="#444" stroke="none" stroke-width="1"/>
<circle cx="248.22" cy="204.42" r="0.6" fill="#222" stroke="none" stroke-width="1"/>
<circle cx="384.39" cy="204.93" r="0.6" fill="#333" stroke="none" stroke-width="1"/>
<circle cx="150.17" cy="204.07" r="0.6" fill="#444" stroke="none" stroke-width="1"/>
<circle cx="217.88" cy="204.97" r="0.6" fill="#222" stroke="none" stroke-width="1"/>
<circle cx="214.43" cy="204.26" r="0.6" fill="#444" stroke="none" stroke-width="1"/>
<circle cx="277.35" cy="204.76" r="0.6" fill="#5a2a3a" stroke="none" stroke-width="1"/>
<circle cx="217.94" cy="204.36" r="0.6" fill="#2a3a2a" stroke="none" stroke-width="1"/>
<circle cx="239.34" cy="204.70" r="0.6" fill="#444" stroke="none" stroke-width="1"/>
<circle cx="381.81" cy="203.87" r="0.6" fill="#5a2a3a" stroke="none" stroke-width="1"/>
<circle cx="399.67" cy="203.93" r="0.6" fill="#333" stroke="none" stroke-width="1"/>
<circle cx="367.69" cy="204.84" r="0.6" fill="#222" stroke="none" stroke-width="1"/>
<circle cx="194.77" cy="204.62" r="0.6" fill="#333" stroke="none" stroke-width="1"/>
<circle cx="208.67" cy="204.74" r="0.6" fill="#5a2a3a" stroke="none" stroke-width="1"/>
<circle cx="346.03" cy="203.92" r="0.6" fill="#333" stroke="none" stroke-width="1"/>
<circle cx="406.13" cy="204.23" r="0.6" fill="#5a2a3a" stroke="none" stroke-width="1"/>
<circle cx="98.43" cy="203.94" r="0.6" fill="#2a3a2a" stroke="none" stroke-width="1"/>
<circle cx="128.03" cy="203.86" r="0.6" fill="#2a3a2a" stroke="none" stroke-width="1"/>
<circle cx="385.05" cy="204.80" r="0.6" fill="#333" stroke="none" stroke-width="1"/>
<circle cx="105.57" cy="204.48" r="0.6" fill="#444" stroke="none" stroke-width="1"/>
<circle cx="199.19" cy="204.49" r="0.6" fill="#5a2a3a" stroke="none" stroke-width="1"/>
<circle cx="166.25" cy="204.13" r="0.6" fill="#222" stroke="none" stroke-width="1"/>
<circle cx="173.76" cy="204.45" r="0.6" fill="#222" stroke="none" stroke-width="1"/>
<circle cx="191.67" cy="204.38" r="0.6" fill="#5a2a3a" stroke="none" stroke-width="1"/>
<circle cx="241.09" cy="204.92" r="0.6" fill="#333" stroke="none" stroke-width="1"/>
<circle cx="418.57" cy="204.87" r="0.6" fill="#5a2a3a" stroke="none" stroke-width="1"/>
<circle cx="148.24" cy="203.91" r="0.6" fill="#333" stroke="none" stroke-width="1"/>
<circle cx="147.67" cy="204.84" r="0.6" fill="#2a3a2a" stroke="none" stroke-width="1"/>
<circle cx="371.40" cy="204.19" r="0.6" fill="#5a2a3a" stroke="none" stroke-width="1"/>
<circle cx="200.02" cy="204.36" r="0.6" fill="#444" stroke="none" stroke-width="1"/>
<circle cx="263.62" cy="204.16" r="0.6" fill="#222" stroke="none" stroke-width="1"/>
<circle cx="151.00" cy="204.04" r="0.6" fill="#333" stroke="none" stroke-width="1"/>
<circle cx="207.50" cy="204.91" r="0.6" fill="#222" stroke="none" stroke-width="1"/>
<circle cx="288.28" cy="204.04" r="0.6" fill="#222" stroke="none" stroke-width="1"/>
<circle cx="278.14" cy="204.73" r="0.6" fill="#5a2a3a" stroke="none" stroke-width="1"/>
<circle cx="376.49" cy="204.46" r="0.6" fill="#5a2a3a" stroke="none" stroke-width="1"/>
<circle cx="427.30" cy="204.50" r="0.6" fill="#5a2a3a" stroke="none" stroke-width="1"/>
<circle cx="283.36" cy="204.95" r="0.6" fill="#333" stroke="none" stroke-width="1"/>
<circle cx="405.60" cy="203.84" r="0.6" fill="#5a2a3a" stroke="none" stroke-width="1"/>
<circle cx="62.66" cy="204.76" r="0.6" fill="#5a2a3a" stroke="none" stroke-width="1"/>
<circle cx="286.06" cy="204.36" r="0.6" fill="#333" stroke="none" stroke-width="1"/>
<circle cx="155.21" cy="204.40" r="0.6" fill="#333" stroke="none" stroke-width="1"/>
<circle cx="147.70" cy="204.04" r="0.6" fill="#5a2a3a" stroke="none" stroke-width="1"/>
<circle cx="57.47" cy="204.98" r="0.6" fill="#444" stroke="none" stroke-width="1"/>
<circle cx="256.07" cy="204.77" r="0.6" fill="#2a3a2a" stroke="none" stroke-width="1"/>
<circle cx="138.11" cy="204.46" r="0.6" fill="#2a3a2a" stroke="none" stroke-width="1"/>
<circle cx="296.81" cy="204.34" r="0.6" fill="#2a3a2a" stroke="none" stroke-width="1"/>
<circle cx="418.03" cy="204.63" r="0.6" fill="#333" stroke="none" stroke-width="1"/>
<circle cx="422.72" cy="204.59" r="0.6" fill="#333" stroke="none" stroke-width="1"/>
<circle cx="199.53" cy="204.58" r="0.6" fill="#222" stroke="none" stroke-width="1"/>
<circle cx="366.53" cy="204.98" r="0.6" fill="#5a2a3a" stroke="none" stroke-width="1"/>
<circle cx="209.60" cy="204.93" r="0.6" fill="#2a3a2a" stroke="none" stroke-width="1"/>
<circle cx="379.49" cy="204.20" r="0.6" fill="#5a2a3a" stroke="none" stroke-width="1"/>
<circle cx="274.51" cy="204.17" r="0.6" fill="#222" stroke="none" stroke-width="1"/>
<circle cx="220.69" cy="204.81" r="0.6" fill="#2a3a2a" stroke="none" stroke-width="1"/>
<circle cx="44.60" cy="204.56" r="0.6" fill="#5a2a3a" stroke="none" stroke-width="1"/>
<circle cx="418.92" cy="204.34" r="0.6" fill="#333" stroke="none" stroke-width="1"/>
<circle cx="56.51" cy="203.94" r="0.6" fill="#333" stroke="none" stroke-width="1"/>
<circle cx="180.95" cy="205.00" r="0.6" fill="#2a3a2a" stroke="none" stroke-width="1"/>
<circle cx="75.61" cy="204.67" r="0.6" fill="#333" stroke="none" stroke-width="1"/>
<circle cx="139.07" cy="204.07" r="0.6" fill="#222" stroke="none" stroke-width="1"/>
<circle cx="145.25" cy="204.89" r="0.6" fill="#2a3a2a" stroke="none" stroke-width="1"/>
<circle cx="269.88" cy="204.53" r="0.6" fill="#5a2a3a" stroke="none" stroke-width="1"/>
<circle cx="160.73" cy="204.72" r="0.6" fill="#444" stroke="none" stroke-width="1"/>
<polygon points="56.70,206.0 58.30,206.0 57.85,203.60 57.85,191.7 57.15,191.7 57.15,203.60" fill="#d8405a"/>
<polygon points="72.10,206.0 73.70,206.0 73.25,203.60 73.25,198.6 72.55,198.6 72.55,203.60" fill="#d8405a"/>
<polygon points="87.10,206.0 88.70,206.0 88.25,203.60 88.25,199.8 87.55,199.8 87.55,203.60" fill="#d8405a"/>
<polygon points="113.20,206.0 114.80,206.0 114.35,203.60 114.35,200.8 113.65,200.8 113.65,203.60" fill="#d8405a"/>
<polygon points="126.70,206.0 128.30,206.0 127.85,203.60 127.85,200.5 127.15,200.5 127.15,203.60" fill="#d8405a"/>
<polygon points="128.70,206.0 130.30,206.0 129.85,203.60 129.85,201.5 129.15,201.5 129.15,203.60" fill="#d8405a"/>
<polygon points="138.20,206.0 139.80,206.0 139.35,203.60 139.35,201.5 138.65,201.5 138.65,203.60" fill="#d8405a"/>
<polygon points="152.70,206.0 154.30,206.0 153.85,203.60 153.85,199.8 153.15,199.8 153.15,203.60" fill="#d8405a"/>
<polygon points="178.60,206.0 180.20,206.0 179.75,203.60 179.75,197 179.05,197 179.05,203.60" fill="#d8405a"/>
<polygon points="194.00,206.0 195.60,206.0 195.15,203.60 195.15,200.5 194.45,200.5 194.45,203.60" fill="#d8405a"/>
<polygon points="219.60,206.0 221.20,206.0 220.75,203.60 220.75,201 220.05,201 220.05,203.60" fill="#d8405a"/>
<polygon points="285.50,206.0 287.10,206.0 286.65,203.60 286.65,202.5 285.95,202.5 285.95,203.60" fill="#d8405a"/>
<polygon points="331.70,206.0 333.30,206.0 332.85,203.60 332.85,202.5 332.15,202.5 332.15,203.60" fill="#d8405a"/>
<polygon points="346.70,206.0 348.30,206.0 347.85,203.60 347.85,200 347.15,200 347.15,203.60" fill="#d8405a"/>
<polygon points="357.20,206.0 358.80,206.0 358.35,203.60 358.35,200.5 357.65,200.5 357.65,203.60" fill="#d8405a"/>
<polygon points="372.70,206.0 374.30,206.0 373.85,203.60 373.85,197 373.15,197 373.15,203.60" fill="#d8405a"/>
<polygon points="382.20,206.0 383.80,206.0 383.35,203.60 383.35,201 382.65,201 382.65,203.60" fill="#d8405a"/>
<polygon points="396.70,206.0 398.30,206.0 397.85,203.60 397.85,201 397.15,201 397.15,203.60" fill="#d8405a"/>
<polygon points="407.20,206.0 408.80,206.0 408.35,203.60 408.35,201 407.65,201 407.65,203.60" fill="#d8405a"/>
<polygon points="311.00,206.0 312.40,206.0 312.05,203.60 312.05,197.3 311.35,197.3 311.35,203.60" fill="#3a7a3a"/>
<polygon points="320.90,206.0 322.10,206.0 321.85,203.60 321.85,202.5 321.15,202.5 321.15,203.60" fill="#7080c0"/>
<circle cx="57.60" cy="178.50" r="0.6" fill="#d8a0b0" stroke="none" stroke-width="1"/>
<circle cx="62.50" cy="198.60" r="0.5" fill="#999" stroke="none" stroke-width="1"/>
<circle cx="73.50" cy="195.00" r="0.5" fill="#999" stroke="none" stroke-width="1"/>
<circle cx="88.50" cy="196.00" r="0.5" fill="#999" stroke="none" stroke-width="1"/>
<polyline points="206.3,206 207.2,190 207.9,175 208.5,160" fill="none" stroke="#e04858" stroke-width="1"/>
<circle cx="209.52" cy="126.00" r="0.6" fill="#e05868" stroke="none" stroke-width="1"/>
<circle cx="209.46" cy="128.00" r="0.6" fill="#e05868" stroke="none" stroke-width="1"/>
<circle cx="209.40" cy="130.00" r="0.6" fill="#e05868" stroke="none" stroke-width="1"/>
<circle cx="209.34" cy="132.00" r="0.6" fill="#e05868" stroke="none" stroke-width="1"/>
<circle cx="209.28" cy="134.00" r="0.6" fill="#e05868" stroke="none" stroke-width="1"/>
<circle cx="209.22" cy="136.00" r="0.6" fill="#e05868" stroke="none" stroke-width="1"/>
<circle cx="209.16" cy="138.00" r="0.6" fill="#e05868" stroke="none" stroke-width="1"/>
<circle cx="209.10" cy="140.00" r="0.6" fill="#e05868" stroke="none" stroke-width="1"/>
<circle cx="209.04" cy="142.00" r="0.6" fill="#e05868" stroke="none" stroke-width="1"/>
<circle cx="208.98" cy="144.00" r="0.6" fill="#e05868" stroke="none" stroke-width="1"/>
<circle cx="208.92" cy="146.00" r="0.6" fill="#e05868" stroke="none" stroke-width="1"/>
<circle cx="208.86" cy="148.00" r="0.6" fill="#e05868" stroke="none" stroke-width="1"/>
<circle cx="208.80" cy="150.00" r="0.6" fill="#e05868" stroke="none" stroke-width="1"/>
<circle cx="208.74" cy="152.00" r="0.6" fill="#e05868" stroke="none" stroke-width="1"/>
<circle cx="208.68" cy="154.00" r="0.6" fill="#e05868" stroke="none" stroke-width="1"/>
<circle cx="208.62" cy="156.00" r="0.6" fill="#e05868" stroke="none" stroke-width="1"/>
<circle cx="208.56" cy="158.00" r="0.6" fill="#e05868" stroke="none" stroke-width="1"/>
<circle cx="209.60" cy="113.00" r="0.5" fill="#e8a0a8" stroke="none" stroke-width="1"/>
<circle cx="209.60" cy="100.00" r="0.5" fill="#e8a0a8" stroke="none" stroke-width="1"/>
<circle cx="209.60" cy="92.00" r="0.5" fill="#e8a0a8" stroke="none" stroke-width="1"/>
<circle cx="209.60" cy="85.00" r="0.5" fill="#e8a0a8" stroke="none" stroke-width="1"/>
<circle cx="209.60" cy="76.00" r="0.5" fill="#e8a0a8" stroke="none" stroke-width="1"/>
<circle cx="209.60" cy="68.00" r="0.5" fill="#e8a0a8" stroke="none" stroke-width="1"/>
<circle cx="209.60" cy="60.00" r="0.5" fill="#e8a0a8" stroke="none" stroke-width="1"/>
<line x1="206.20" y1="175.60" x2="210.20" y2="175.60" stroke="#222" stroke-width="1"/>
<polyline points="211.6,206 212.6,198 213.4,188 214,180" fill="none" stroke="#2a6a3a" stroke-width="1.2"/>
<circle cx="214.36" cy="177.00" r="0.55" fill="#3a7a4a" stroke="none" stroke-width="1"/>
<circle cx="214.42" cy="174.00" r="0.55" fill="#3a7a4a" stroke="none" stroke-width="1"/>
<circle cx="214.48" cy="171.00" r="0.55" fill="#3a7a4a" stroke="none" stroke-width="1"/>
<circle cx="214.54" cy="168.00" r="0.55" fill="#3a7a4a" stroke="none" stroke-width="1"/>
<circle cx="214.60" cy="165.00" r="0.55" fill="#3a7a4a" stroke="none" stroke-width="1"/>
<circle cx="214.66" cy="162.00" r="0.55" fill="#3a7a4a" stroke="none" stroke-width="1"/>
<circle cx="214.74" cy="158.00" r="0.45" fill="#8ab08a" stroke="none" stroke-width="1"/>
<circle cx="214.90" cy="150.00" r="0.45" fill="#8ab08a" stroke="none" stroke-width="1"/>
<circle cx="215.02" cy="144.00" r="0.45" fill="#8ab08a" stroke="none" stroke-width="1"/>
<circle cx="215.14" cy="138.00" r="0.45" fill="#8ab08a" stroke="none" stroke-width="1"/>
<circle cx="215.28" cy="131.00" r="0.45" fill="#8ab08a" stroke="none" stroke-width="1"/>
<rect x="244.7" y="193" width="12" height="12.5" fill="#fbeef3" opacity="0.6"/>
<line x1="246.20" y1="205.50" x2="246.40" y2="194.20" stroke="#d04050" stroke-width="0.9"/>
<path d="M247.7,205.3 Q250.8,203.5 251.5,194.2" fill="none" stroke="#3a50a8" stroke-width="1.1"/>
<path d="M252.3,205.3 Q255.4,203.5 256.2,194.2" fill="none" stroke="#2a7a30" stroke-width="1.1"/>
<circle cx="251.60" cy="192.50" r="0.5" fill="#8890c0" stroke="none" stroke-width="1"/>
<circle cx="256.20" cy="192.50" r="0.5" fill="#88b088" stroke="none" stroke-width="1"/>
<rect x="259.3" y="193" width="12" height="12.5" fill="#fbeef3" opacity="0.6"/>
<line x1="260.80" y1="205.50" x2="261.00" y2="194.20" stroke="#d04050" stroke-width="0.9"/>
<path d="M262.3,205.3 Q265.4,203.5 266.1,194.2" fill="none" stroke="#3a50a8" stroke-width="1.1"/>
<path d="M266.9,205.3 Q270.0,203.5 270.8,194.2" fill="none" stroke="#2a7a30" stroke-width="1.1"/>
<circle cx="266.20" cy="192.50" r="0.5" fill="#8890c0" stroke="none" stroke-width="1"/>
<circle cx="270.80" cy="192.50" r="0.5" fill="#88b088" stroke="none" stroke-width="1"/>
<circle cx="245.40" cy="185.00" r="0.6" fill="#aaa" stroke="none" stroke-width="1"/>
<circle cx="246.20" cy="187.50" r="0.5" fill="#bbb" stroke="none" stroke-width="1"/>
<line x1="42.20" y1="34.50" x2="430.50" y2="34.50" stroke="#111" stroke-width="1.2"/>
<line x1="430.50" y1="34.50" x2="430.50" y2="206.50" stroke="#111" stroke-width="1.4"/>
<line x1="42.20" y1="33.90" x2="42.20" y2="207.30" stroke="#111" stroke-width="1.6"/>
<line x1="41.40" y1="206.10" x2="431.20" y2="206.10" stroke="#111" stroke-width="2.2"/>
<text x="7.80" y="262.10" font-size="12" text-anchor="start" fill="#000" font-weight="bold">B</text>
<text x="102.50" y="270.00" font-size="6.6" text-anchor="middle" fill="#111" font-weight="bold">Taqman analysis</text>
<line x1="42.30" y1="272.30" x2="42.30" y2="292.20" stroke="#111" stroke-width="1.4"/>
<line x1="42.30" y1="299.60" x2="42.30" y2="341.30" stroke="#111" stroke-width="1.4"/>
<line x1="42.30" y1="348.20" x2="42.30" y2="373.60" stroke="#111" stroke-width="1.4"/>
<line x1="39.70" y1="292.20" x2="44.70" y2="292.20" stroke="#111" stroke-width="1.3"/>
<line x1="39.70" y1="299.60" x2="44.70" y2="299.60" stroke="#111" stroke-width="1.3"/>
<line x1="39.70" y1="341.30" x2="44.70" y2="341.30" stroke="#111" stroke-width="1.3"/>
<line x1="39.70" y1="348.20" x2="44.70" y2="348.20" stroke="#111" stroke-width="1.3"/>
<line x1="39.30" y1="275.20" x2="42.30" y2="275.20" stroke="#111" stroke-width="1.1"/>
<text x="35.60" y="277.50" font-size="6.4" text-anchor="end" fill="#3a3a3a" textLength="15.37" lengthAdjust="spacingAndGlyphs">3000</text>
<line x1="39.30" y1="281.80" x2="42.30" y2="281.80" stroke="#111" stroke-width="1.1"/>
<text x="35.60" y="284.10" font-size="6.4" text-anchor="end" fill="#3a3a3a" textLength="15.37" lengthAdjust="spacingAndGlyphs">2000</text>
<line x1="39.30" y1="287.90" x2="42.30" y2="287.90" stroke="#111" stroke-width="1.1"/>
<text x="35.60" y="290.20" font-size="6.4" text-anchor="end" fill="#3a3a3a" textLength="15.37" lengthAdjust="spacingAndGlyphs">1000</text>
<line x1="39.30" y1="299.60" x2="42.30" y2="299.60" stroke="#111" stroke-width="1.1"/>
<text x="35.60" y="301.90" font-size="6.4" text-anchor="end" fill="#3a3a3a" textLength="11.53" lengthAdjust="spacingAndGlyphs">250</text>
<line x1="39.30" y1="308.30" x2="42.30" y2="308.30" stroke="#111" stroke-width="1.1"/>
<text x="35.60" y="310.60" font-size="6.4" text-anchor="end" fill="#3a3a3a" textLength="11.53" lengthAdjust="spacingAndGlyphs">200</text>
<line x1="39.30" y1="317.30" x2="42.30" y2="317.30" stroke="#111" stroke-width="1.1"/>
<text x="35.60" y="319.60" font-size="6.4" text-anchor="end" fill="#3a3a3a" textLength="11.53" lengthAdjust="spacingAndGlyphs">150</text>
<line x1="39.30" y1="326.30" x2="42.30" y2="326.30" stroke="#111" stroke-width="1.1"/>
<text x="35.60" y="328.60" font-size="6.4" text-anchor="end" fill="#3a3a3a" textLength="11.53" lengthAdjust="spacingAndGlyphs">100</text>
<line x1="39.30" y1="335.10" x2="42.30" y2="335.10" stroke="#111" stroke-width="1.1"/>
<text x="35.60" y="337.40" font-size="6.4" text-anchor="end" fill="#3a3a3a" textLength="7.69" lengthAdjust="spacingAndGlyphs">50</text>
<line x1="39.30" y1="352.50" x2="42.30" y2="352.50" stroke="#111" stroke-width="1.1"/>
<text x="35.60" y="354.80" font-size="6.4" text-anchor="end" fill="#3a3a3a" textLength="7.69" lengthAdjust="spacingAndGlyphs">10</text>
<line x1="39.30" y1="363.20" x2="42.30" y2="363.20" stroke="#111" stroke-width="1.1"/>
<text x="35.60" y="365.50" font-size="6.4" text-anchor="end" fill="#3a3a3a" textLength="3.84" lengthAdjust="spacingAndGlyphs">5</text>
<line x1="39.30" y1="373.60" x2="42.30" y2="373.60" stroke="#111" stroke-width="1.1"/>
<text x="35.60" y="375.90" font-size="6.4" text-anchor="end" fill="#3a3a3a" textLength="3.84" lengthAdjust="spacingAndGlyphs">0</text>
<line x1="40.80" y1="373.60" x2="163.30" y2="373.60" stroke="#111" stroke-width="1.5"/>
<line x1="54.50" y1="373.60" x2="54.50" y2="377.20" stroke="#111" stroke-width="0.9"/>
<line x1="77.70" y1="373.60" x2="77.70" y2="377.20" stroke="#111" stroke-width="0.9"/>
<line x1="102.30" y1="373.60" x2="102.30" y2="377.20" stroke="#111" stroke-width="0.9"/>
<line x1="126.00" y1="373.60" x2="126.00" y2="377.20" stroke="#111" stroke-width="0.9"/>
<line x1="150.20" y1="373.60" x2="150.20" y2="377.20" stroke="#111" stroke-width="0.9"/>
<text x="14.30" y="322.90" font-size="8" text-anchor="middle" fill="#1a1a1a" transform="rotate(-90 14.30 322.90)" textLength="38.00" lengthAdjust="spacingAndGlyphs" stroke="#1a1a1a" stroke-width="0.3">Relative levels</text>
<text x="56.10" y="383.20" font-size="6.8" text-anchor="end" fill="#333" transform="rotate(-45 56.10 383.20)">Normal</text>
<text x="79.30" y="383.20" font-size="6.8" text-anchor="end" fill="#333" transform="rotate(-45 79.30 383.20)">Norm HSC</text>
<text x="103.90" y="383.20" font-size="6.8" text-anchor="end" fill="#333" transform="rotate(-45 103.90 383.20)">Norm-MPP</text>
<text x="127.80" y="383.20" font-size="6.8" text-anchor="end" fill="#333" transform="rotate(-45 127.80 383.20)">AML-LSC</text>
<text x="152.00" y="383.20" font-size="6.8" text-anchor="end" fill="#333" transform="rotate(-45 152.00 383.20)">AML blast</text>
<circle cx="54.50" cy="350.40" r="2.1" fill="white" stroke="#a8234a" stroke-width="1.1"/>
<circle cx="54.50" cy="364.00" r="2.1" fill="white" stroke="#a8234a" stroke-width="1.1"/>
<circle cx="54.50" cy="366.00" r="2.1" fill="white" stroke="#a8234a" stroke-width="1.1"/>
<circle cx="54.50" cy="368.30" r="2.1" fill="white" stroke="#a8234a" stroke-width="1.1"/>
<circle cx="54.50" cy="370.50" r="2.1" fill="white" stroke="#a8234a" stroke-width="1.1"/>
<circle cx="54.50" cy="372.50" r="2.1" fill="white" stroke="#a8234a" stroke-width="1.1"/>
<circle cx="54.50" cy="373.80" r="2.1" fill="white" stroke="#a8234a" stroke-width="1.1"/>
<line x1="77.70" y1="374.00" x2="102.30" y2="355.20" stroke="#111" stroke-width="1"/>
<line x1="77.70" y1="374.00" x2="102.30" y2="366.20" stroke="#111" stroke-width="1"/>
<line x1="77.70" y1="374.00" x2="102.30" y2="368.00" stroke="#111" stroke-width="1"/>
<line x1="77.70" y1="374.00" x2="102.30" y2="369.60" stroke="#111" stroke-width="1"/>
<line x1="77.70" y1="374.00" x2="102.30" y2="371.50" stroke="#111" stroke-width="1"/>
<line x1="77.70" y1="374.00" x2="102.30" y2="373.80" stroke="#111" stroke-width="1"/>
<circle cx="102.30" cy="355.20" r="2.3" fill="#6aae45" stroke="none" stroke-width="1"/>
<circle cx="102.30" cy="366.20" r="2.3" fill="#6aae45" stroke="none" stroke-width="1"/>
<circle cx="102.30" cy="368.00" r="2.3" fill="#6aae45" stroke="none" stroke-width="1"/>
<circle cx="102.30" cy="369.60" r="2.3" fill="#6aae45" stroke="none" stroke-width="1"/>
<circle cx="102.30" cy="371.50" r="2.3" fill="#6aae45" stroke="none" stroke-width="1"/>
<circle cx="102.30" cy="373.80" r="2.3" fill="#6aae45" stroke="none" stroke-width="1"/>
<circle cx="77.70" cy="374.10" r="2.6" fill="#1f2a3d" stroke="#111" stroke-width="0.4"/>
<line x1="126.00" y1="279.00" x2="150.20" y2="281.50" stroke="#111" stroke-width="1.3"/>
<line x1="126.00" y1="307.60" x2="150.20" y2="320.40" stroke="#111" stroke-width="1.3"/>
<line x1="126.00" y1="329.00" x2="150.20" y2="332.40" stroke="#111" stroke-width="1.3"/>
<line x1="126.00" y1="340.40" x2="150.20" y2="333.60" stroke="#111" stroke-width="1.3"/>
<line x1="126.00" y1="340.40" x2="150.20" y2="338.40" stroke="#111" stroke-width="1.3"/>
<line x1="126.00" y1="362.80" x2="150.20" y2="360.60" stroke="#111" stroke-width="1.3"/>
<line x1="126.00" y1="374.30" x2="143.90" y2="348.90" stroke="#111" stroke-width="1.3"/>
<circle cx="150.20" cy="281.50" r="2.5" fill="#6aae45" stroke="none" stroke-width="1"/>
<circle cx="150.20" cy="320.40" r="2.5" fill="#6aae45" stroke="none" stroke-width="1"/>
<circle cx="150.20" cy="332.40" r="2.5" fill="#6aae45" stroke="none" stroke-width="1"/>
<circle cx="150.20" cy="335.50" r="2.5" fill="#6aae45" stroke="none" stroke-width="1"/>
<circle cx="150.20" cy="338.40" r="2.5" fill="#6aae45" stroke="none" stroke-width="1"/>
<circle cx="150.20" cy="340.40" r="2.5" fill="#6aae45" stroke="none" stroke-width="1"/>
<circle cx="150.20" cy="360.60" r="2.5" fill="#6aae45" stroke="none" stroke-width="1"/>
<circle cx="126.00" cy="279.00" r="2.9" fill="#1f2a3d" stroke="#111" stroke-width="0.4"/>
<circle cx="126.00" cy="307.60" r="2.9" fill="#1f2a3d" stroke="#111" stroke-width="0.4"/>
<circle cx="126.00" cy="329.00" r="2.9" fill="#1f2a3d" stroke="#111" stroke-width="0.4"/>
<circle cx="126.00" cy="340.40" r="2.9" fill="#1f2a3d" stroke="#111" stroke-width="0.4"/>
<circle cx="126.00" cy="362.80" r="2.9" fill="#1f2a3d" stroke="#111" stroke-width="0.4"/>
<circle cx="126.00" cy="374.20" r="2.9" fill="#1f2a3d" stroke="#111" stroke-width="0.4"/>
<text x="179.30" y="261.70" font-size="12" text-anchor="start" fill="#000" font-weight="bold">C</text>
<text x="273.00" y="272.60" font-size="6.5" text-anchor="middle" fill="#111" font-weight="bold">CLL1 protein</text>
<line x1="210.00" y1="286.30" x2="210.00" y2="304.60" stroke="#111" stroke-width="1.5"/>
<line x1="210.00" y1="311.30" x2="210.00" y2="374.00" stroke="#111" stroke-width="1.5"/>
<line x1="207.50" y1="304.60" x2="212.20" y2="304.60" stroke="#111" stroke-width="1.2"/>
<line x1="207.50" y1="311.30" x2="212.20" y2="311.30" stroke="#111" stroke-width="1.2"/>
<line x1="207.10" y1="289.20" x2="210.00" y2="289.20" stroke="#111" stroke-width="1"/>
<text x="203.30" y="291.20" font-size="5.7" text-anchor="end" fill="#3a3a3a" textLength="10.94" lengthAdjust="spacingAndGlyphs">400</text>
<line x1="207.10" y1="298.50" x2="210.00" y2="298.50" stroke="#111" stroke-width="1"/>
<text x="203.30" y="300.50" font-size="5.7" text-anchor="end" fill="#3a3a3a" textLength="10.94" lengthAdjust="spacingAndGlyphs">200</text>
<line x1="207.10" y1="311.10" x2="210.00" y2="311.10" stroke="#111" stroke-width="1"/>
<text x="203.30" y="313.10" font-size="5.7" text-anchor="end" fill="#3a3a3a" textLength="7.29" lengthAdjust="spacingAndGlyphs">60</text>
<line x1="207.10" y1="332.30" x2="210.00" y2="332.30" stroke="#111" stroke-width="1"/>
<text x="203.30" y="334.30" font-size="5.7" text-anchor="end" fill="#3a3a3a" textLength="7.29" lengthAdjust="spacingAndGlyphs">40</text>
<line x1="207.10" y1="353.30" x2="210.00" y2="353.30" stroke="#111" stroke-width="1"/>
<text x="203.30" y="355.30" font-size="5.7" text-anchor="end" fill="#3a3a3a" textLength="7.29" lengthAdjust="spacingAndGlyphs">20</text>
<line x1="207.10" y1="374.00" x2="210.00" y2="374.00" stroke="#111" stroke-width="1"/>
<text x="203.30" y="376.00" font-size="5.7" text-anchor="end" fill="#3a3a3a" textLength="3.65" lengthAdjust="spacingAndGlyphs">0</text>
<line x1="209.00" y1="374.00" x2="337.70" y2="374.00" stroke="#111" stroke-width="1.4"/>
<line x1="214.50" y1="374.00" x2="214.50" y2="377.30" stroke="#111" stroke-width="0.9"/>
<text x="216.70" y="380.00" font-size="6.4" text-anchor="end" fill="#2a2a2a" transform="rotate(-90 216.70 380.00)">Monocytes</text>
<line x1="224.40" y1="374.00" x2="224.40" y2="377.30" stroke="#111" stroke-width="0.9"/>
<text x="226.60" y="380.00" font-size="6.4" text-anchor="end" fill="#2a2a2a" transform="rotate(-90 226.60 380.00)">Granulocytes</text>
<line x1="234.20" y1="374.00" x2="234.20" y2="377.30" stroke="#111" stroke-width="0.9"/>
<text x="236.40" y="380.00" font-size="6.4" text-anchor="end" fill="#2a2a2a" transform="rotate(-90 236.40 380.00)">T cells</text>
<line x1="244.00" y1="374.00" x2="244.00" y2="377.30" stroke="#111" stroke-width="0.9"/>
<text x="246.20" y="380.00" font-size="6.4" text-anchor="end" fill="#2a2a2a" transform="rotate(-90 246.20 380.00)">B cells</text>
<line x1="253.50" y1="374.00" x2="253.50" y2="377.30" stroke="#111" stroke-width="0.9"/>
<text x="255.70" y="380.00" font-size="6.4" text-anchor="end" fill="#2a2a2a" transform="rotate(-90 255.70 380.00)">Erythrocytes</text>
<line x1="263.20" y1="374.00" x2="263.20" y2="377.30" stroke="#111" stroke-width="0.9"/>
<text x="265.40" y="380.00" font-size="6.4" text-anchor="end" fill="#2a2a2a" transform="rotate(-90 265.40 380.00)">Platelets</text>
<line x1="273.00" y1="374.00" x2="273.00" y2="377.30" stroke="#111" stroke-width="0.9"/>
<text x="275.20" y="380.00" font-size="6.4" text-anchor="end" fill="#2a2a2a" transform="rotate(-90 275.20 380.00)">HSC</text>
<line x1="282.70" y1="374.00" x2="282.70" y2="377.30" stroke="#111" stroke-width="0.9"/>
<text x="284.90" y="380.00" font-size="6.4" text-anchor="end" fill="#2a2a2a" transform="rotate(-90 284.90 380.00)">MPP</text>
<line x1="292.70" y1="374.00" x2="292.70" y2="377.30" stroke="#111" stroke-width="0.9"/>
<text x="294.90" y="380.00" font-size="6.4" text-anchor="end" fill="#2a2a2a" transform="rotate(-90 294.90 380.00)">CMP</text>
<line x1="302.30" y1="374.00" x2="302.30" y2="377.30" stroke="#111" stroke-width="0.9"/>
<text x="304.50" y="380.00" font-size="6.4" text-anchor="end" fill="#2a2a2a" transform="rotate(-90 304.50 380.00)">GMP</text>
<line x1="312.00" y1="374.00" x2="312.00" y2="377.30" stroke="#111" stroke-width="0.9"/>
<text x="314.20" y="380.00" font-size="6.4" text-anchor="end" fill="#2a2a2a" transform="rotate(-90 314.20 380.00)">MEP</text>
<line x1="322.00" y1="374.00" x2="322.00" y2="377.30" stroke="#111" stroke-width="0.9"/>
<text x="324.20" y="380.00" font-size="6.4" text-anchor="end" fill="#2a2a2a" transform="rotate(-90 324.20 380.00)">LSC</text>
<line x1="331.80" y1="374.00" x2="331.80" y2="377.30" stroke="#111" stroke-width="0.9"/>
<text x="334.00" y="380.00" font-size="6.4" text-anchor="end" fill="#2a2a2a" transform="rotate(-90 334.00 380.00)">Bulk AML</text>
<line x1="213.30" y1="420.30" x2="315.00" y2="420.30" stroke="#111" stroke-width="1.1"/>
<line x1="213.30" y1="417.60" x2="213.30" y2="420.30" stroke="#111" stroke-width="1"/>
<line x1="315.00" y1="417.60" x2="315.00" y2="420.30" stroke="#111" stroke-width="1"/>
<text x="264.15" y="429.40" font-size="6.5" text-anchor="middle" fill="#222">Normal Tissues</text>
<line x1="323.50" y1="420.30" x2="334.30" y2="420.30" stroke="#111" stroke-width="1.1"/>
<line x1="323.50" y1="417.60" x2="323.50" y2="420.30" stroke="#111" stroke-width="1"/>
<line x1="334.30" y1="417.60" x2="334.30" y2="420.30" stroke="#111" stroke-width="1"/>
<text x="328.90" y="430.00" font-size="6.5" text-anchor="middle" fill="#222">AML</text>
<text x="185.60" y="329.80" font-size="7.5" text-anchor="middle" fill="#1a1a1a" transform="rotate(-90 185.60 329.80)" textLength="33.50" lengthAdjust="spacingAndGlyphs" stroke="#1a1a1a" stroke-width="0.3">Relative MFI</text>
<text x="448.50" y="272.60" font-size="6.5" text-anchor="middle" fill="#111" font-weight="bold">CD33 protein</text>
<line x1="384.00" y1="286.00" x2="384.00" y2="304.60" stroke="#111" stroke-width="1.5"/>
<line x1="384.00" y1="311.20" x2="384.00" y2="374.00" stroke="#111" stroke-width="1.5"/>
<line x1="381.50" y1="304.60" x2="386.20" y2="304.60" stroke="#111" stroke-width="1.2"/>
<line x1="381.50" y1="311.20" x2="386.20" y2="311.20" stroke="#111" stroke-width="1.2"/>
<line x1="381.10" y1="289.10" x2="384.00" y2="289.10" stroke="#111" stroke-width="1"/>
<text x="377.10" y="291.10" font-size="5.3" text-anchor="end" fill="#3a3a3a" textLength="10.17" lengthAdjust="spacingAndGlyphs">400</text>
<line x1="381.10" y1="294.20" x2="384.00" y2="294.20" stroke="#111" stroke-width="1"/>
<text x="377.10" y="296.20" font-size="5.3" text-anchor="end" fill="#3a3a3a" textLength="10.17" lengthAdjust="spacingAndGlyphs">300</text>
<line x1="381.10" y1="299.20" x2="384.00" y2="299.20" stroke="#111" stroke-width="1"/>
<text x="377.10" y="301.20" font-size="5.3" text-anchor="end" fill="#3a3a3a" textLength="10.17" lengthAdjust="spacingAndGlyphs">200</text>
<line x1="381.10" y1="304.60" x2="384.00" y2="304.60" stroke="#111" stroke-width="1"/>
<text x="377.10" y="306.60" font-size="5.3" text-anchor="end" fill="#3a3a3a" textLength="10.17" lengthAdjust="spacingAndGlyphs">100</text>
<line x1="381.10" y1="311.20" x2="384.00" y2="311.20" stroke="#111" stroke-width="1"/>
<text x="377.10" y="313.20" font-size="5.7" text-anchor="end" fill="#3a3a3a" textLength="10.94" lengthAdjust="spacingAndGlyphs">100</text>
<line x1="381.10" y1="323.70" x2="384.00" y2="323.70" stroke="#111" stroke-width="1"/>
<text x="377.10" y="325.70" font-size="5.7" text-anchor="end" fill="#3a3a3a" textLength="7.29" lengthAdjust="spacingAndGlyphs">80</text>
<line x1="381.10" y1="336.20" x2="384.00" y2="336.20" stroke="#111" stroke-width="1"/>
<text x="377.10" y="338.20" font-size="5.7" text-anchor="end" fill="#3a3a3a" textLength="7.29" lengthAdjust="spacingAndGlyphs">60</text>
<line x1="381.10" y1="348.80" x2="384.00" y2="348.80" stroke="#111" stroke-width="1"/>
<text x="377.10" y="350.80" font-size="5.7" text-anchor="end" fill="#3a3a3a" textLength="7.29" lengthAdjust="spacingAndGlyphs">40</text>
<line x1="381.10" y1="361.30" x2="384.00" y2="361.30" stroke="#111" stroke-width="1"/>
<text x="377.10" y="363.30" font-size="5.7" text-anchor="end" fill="#3a3a3a" textLength="7.29" lengthAdjust="spacingAndGlyphs">20</text>
<line x1="381.10" y1="374.00" x2="384.00" y2="374.00" stroke="#111" stroke-width="1"/>
<text x="377.10" y="376.00" font-size="5.7" text-anchor="end" fill="#3a3a3a" textLength="3.65" lengthAdjust="spacingAndGlyphs">0</text>
<line x1="383.00" y1="374.00" x2="513.00" y2="374.00" stroke="#111" stroke-width="1.4"/>
<line x1="389.00" y1="374.00" x2="389.00" y2="377.30" stroke="#111" stroke-width="0.9"/>
<text x="391.20" y="380.00" font-size="6.4" text-anchor="end" fill="#2a2a2a" transform="rotate(-90 391.20 380.00)">Monocytes</text>
<line x1="398.80" y1="374.00" x2="398.80" y2="377.30" stroke="#111" stroke-width="0.9"/>
<text x="401.00" y="380.00" font-size="6.4" text-anchor="end" fill="#2a2a2a" transform="rotate(-90 401.00 380.00)">Granulocytes</text>
<line x1="408.70" y1="374.00" x2="408.70" y2="377.30" stroke="#111" stroke-width="0.9"/>
<text x="410.90" y="380.00" font-size="6.4" text-anchor="end" fill="#2a2a2a" transform="rotate(-90 410.90 380.00)">T cells</text>
<line x1="418.70" y1="374.00" x2="418.70" y2="377.30" stroke="#111" stroke-width="0.9"/>
<text x="420.90" y="380.00" font-size="6.4" text-anchor="end" fill="#2a2a2a" transform="rotate(-90 420.90 380.00)">B cells</text>
<line x1="428.40" y1="374.00" x2="428.40" y2="377.30" stroke="#111" stroke-width="0.9"/>
<text x="430.60" y="380.00" font-size="6.4" text-anchor="end" fill="#2a2a2a" transform="rotate(-90 430.60 380.00)">Erythrocytes</text>
<line x1="438.20" y1="374.00" x2="438.20" y2="377.30" stroke="#111" stroke-width="0.9"/>
<text x="440.40" y="380.00" font-size="6.4" text-anchor="end" fill="#2a2a2a" transform="rotate(-90 440.40 380.00)">Platelets</text>
<line x1="448.40" y1="374.00" x2="448.40" y2="377.30" stroke="#111" stroke-width="0.9"/>
<text x="450.60" y="380.00" font-size="6.4" text-anchor="end" fill="#2a2a2a" transform="rotate(-90 450.60 380.00)">HSC</text>
<line x1="457.40" y1="374.00" x2="457.40" y2="377.30" stroke="#111" stroke-width="0.9"/>
<text x="459.60" y="380.00" font-size="6.4" text-anchor="end" fill="#2a2a2a" transform="rotate(-90 459.60 380.00)">MPP</text>
<line x1="467.90" y1="374.00" x2="467.90" y2="377.30" stroke="#111" stroke-width="0.9"/>
<text x="470.10" y="380.00" font-size="6.4" text-anchor="end" fill="#2a2a2a" transform="rotate(-90 470.10 380.00)">CMP</text>
<line x1="477.90" y1="374.00" x2="477.90" y2="377.30" stroke="#111" stroke-width="0.9"/>
<text x="480.10" y="380.00" font-size="6.4" text-anchor="end" fill="#2a2a2a" transform="rotate(-90 480.10 380.00)">GMP</text>
<line x1="488.20" y1="374.00" x2="488.20" y2="377.30" stroke="#111" stroke-width="0.9"/>
<text x="490.40" y="380.00" font-size="6.4" text-anchor="end" fill="#2a2a2a" transform="rotate(-90 490.40 380.00)">MEP</text>
<line x1="497.30" y1="374.00" x2="497.30" y2="377.30" stroke="#111" stroke-width="0.9"/>
<text x="499.50" y="380.00" font-size="6.4" text-anchor="end" fill="#2a2a2a" transform="rotate(-90 499.50 380.00)">LSC</text>
<line x1="507.30" y1="374.00" x2="507.30" y2="377.30" stroke="#111" stroke-width="0.9"/>
<text x="509.50" y="380.00" font-size="6.4" text-anchor="end" fill="#2a2a2a" transform="rotate(-90 509.50 380.00)">Bulk</text>
<line x1="388.10" y1="420.30" x2="491.50" y2="420.30" stroke="#111" stroke-width="1.1"/>
<line x1="388.10" y1="417.60" x2="388.10" y2="420.30" stroke="#111" stroke-width="1"/>
<line x1="491.50" y1="417.60" x2="491.50" y2="420.30" stroke="#111" stroke-width="1"/>
<text x="439.80" y="429.40" font-size="6.5" text-anchor="middle" fill="#222">Normal Tissues</text>
<line x1="498.50" y1="420.30" x2="511.80" y2="420.30" stroke="#111" stroke-width="1.1"/>
<line x1="498.50" y1="417.60" x2="498.50" y2="420.30" stroke="#111" stroke-width="1"/>
<line x1="511.80" y1="417.60" x2="511.80" y2="420.30" stroke="#111" stroke-width="1"/>
<text x="505.15" y="430.00" font-size="6.5" text-anchor="middle" fill="#222">AML</text>
<text x="360.30" y="329.50" font-size="7.5" text-anchor="middle" fill="#1a1a1a" transform="rotate(-90 360.30 329.50)" textLength="33.50" lengthAdjust="spacingAndGlyphs" stroke="#1a1a1a" stroke-width="0.3">Relative MFI</text>
<line x1="211.00" y1="334.50" x2="221.00" y2="334.50" stroke="#111" stroke-width="1.2"/>
<circle cx="214.20" cy="313.10" r="1.95" fill="#5c1a2e" stroke="#111" stroke-width="0.85"/>
<circle cx="217.10" cy="316.90" r="1.95" fill="#5c1a2e" stroke="#111" stroke-width="0.85"/>
<circle cx="211.90" cy="319.20" r="1.95" fill="#5c1a2e" stroke="#111" stroke-width="0.85"/>
<circle cx="214.60" cy="330.40" r="1.95" fill="#5c1a2e" stroke="#111" stroke-width="0.85"/>
<circle cx="216.70" cy="337.50" r="1.95" fill="#5c1a2e" stroke="#111" stroke-width="0.85"/>
<circle cx="211.90" cy="339.40" r="1.95" fill="#5c1a2e" stroke="#111" stroke-width="0.85"/>
<circle cx="214.60" cy="348.10" r="1.95" fill="#5c1a2e" stroke="#111" stroke-width="0.85"/>
<circle cx="214.60" cy="355.80" r="1.95" fill="#5c1a2e" stroke="#111" stroke-width="0.85"/>
<circle cx="219.60" cy="336.20" r="1.95" fill="#5c1a2e" stroke="#111" stroke-width="0.85"/>
<rect x="222.80" y="330.50" width="3.2" height="3.2" fill="#1e3050" stroke="#111" stroke-width="0.8"/>
<rect x="225.30" y="337.80" width="3.2" height="3.2" fill="#1e3050" stroke="#111" stroke-width="0.8"/>
<rect x="219.90" y="344.20" width="3.2" height="3.2" fill="#1e3050" stroke="#111" stroke-width="0.8"/>
<rect x="224.20" y="340.70" width="3.2" height="3.2" fill="#1e3050" stroke="#111" stroke-width="0.8"/>
<rect x="222.80" y="354.20" width="3.2" height="3.2" fill="#1e3050" stroke="#111" stroke-width="0.8"/>
<rect x="222.80" y="357.60" width="3.2" height="3.2" fill="#1e3050" stroke="#111" stroke-width="0.8"/>
<rect x="219.90" y="361.50" width="3.2" height="3.2" fill="#1e3050" stroke="#111" stroke-width="0.8"/>
<rect x="221.40" y="334.40" width="3.2" height="3.2" fill="#1e3050" stroke="#111" stroke-width="0.8"/>
<rect x="229.90" y="371.8" width="8.6" height="2" rx="1" fill="#3a3a28"/>
<rect x="239.70" y="371.8" width="8.6" height="2" rx="1" fill="#2a1a40"/>
<rect x="249.20" y="371.8" width="8.6" height="2" rx="1" fill="#a88a3a"/>
<rect x="258.90" y="371.8" width="8.6" height="2" rx="1" fill="#2a3a32"/>
<rect x="268.70" y="371.8" width="8.6" height="2" rx="1" fill="#222"/>
<rect x="278.40" y="371.8" width="8.6" height="2" rx="1" fill="#333"/>
<rect x="307.70" y="371.8" width="8.6" height="2" rx="1" fill="#333"/>
<circle cx="280.50" cy="371.20" r="1.2" fill="#777" stroke="none" stroke-width="1"/>
<circle cx="284.00" cy="371.50" r="1.2" fill="#777" stroke="none" stroke-width="1"/>
<line x1="289.50" y1="361.20" x2="296.00" y2="361.20" stroke="#4a6a9a" stroke-width="1"/>
<polygon points="292.7,359.59999999999997 294.3,361.2 292.7,362.8 291.09999999999997,361.2" fill="#4a6a9a"/>
<line x1="299.00" y1="359.20" x2="305.50" y2="359.20" stroke="#8b1a5a" stroke-width="1"/>
<polygon points="302.3,356.9 304.6,359.2 302.3,361.5 300.0,359.2" fill="#8b1a5a"/>
<polygon points="322.10,298.90 322.79,300.55 324.57,300.70 323.21,301.86 323.63,303.60 322.10,302.67 320.57,303.60 320.99,301.86 319.63,300.70 321.41,300.55" fill="#cfc796"/>
<polygon points="322.10,329.30 322.79,330.95 324.57,331.10 323.21,332.26 323.63,334.00 322.10,333.07 320.57,334.00 320.99,332.26 319.63,331.10 321.41,330.95" fill="#cfc796"/>
<polygon points="314.40,345.70 315.09,347.35 316.87,347.50 315.51,348.66 315.93,350.40 314.40,349.47 312.87,350.40 313.29,348.66 311.93,347.50 313.71,347.35" fill="#cfc796"/>
<polygon points="322.10,353.90 322.79,355.55 324.57,355.70 323.21,356.86 323.63,358.60 322.10,357.67 320.57,358.60 320.99,356.86 319.63,355.70 321.41,355.55" fill="#cfc796"/>
<polygon points="318.30,357.20 318.99,358.85 320.77,359.00 319.41,360.16 319.83,361.90 318.30,360.97 316.77,361.90 317.19,360.16 315.83,359.00 317.61,358.85" fill="#cfc796"/>
<line x1="319.20" y1="348.50" x2="326.00" y2="348.50" stroke="#2a3a5a" stroke-width="1.2"/>
<rect x="330.90" y="293.00" width="2.8" height="2.8" fill="#5a3c20" stroke="#3a2a10" stroke-width="0.3"/>
<rect x="328.90" y="302.60" width="2.8" height="2.8" fill="#5a3c20" stroke="#3a2a10" stroke-width="0.3"/>
<rect x="331.40" y="302.60" width="2.8" height="2.8" fill="#5a3c20" stroke="#3a2a10" stroke-width="0.3"/>
<rect x="330.90" y="345.90" width="2.8" height="2.8" fill="#5a3c20" stroke="#3a2a10" stroke-width="0.3"/>
<rect x="328.90" y="355.50" width="2.8" height="2.8" fill="#5a3c20" stroke="#3a2a10" stroke-width="0.3"/>
<rect x="331.40" y="355.50" width="2.8" height="2.8" fill="#5a3c20" stroke="#3a2a10" stroke-width="0.3"/>
<line x1="328.80" y1="325.50" x2="335.60" y2="325.50" stroke="#2a3a5a" stroke-width="1.2"/>
<line x1="386.70" y1="325.50" x2="393.50" y2="325.50" stroke="#111" stroke-width="1.2"/>
<circle cx="389.00" cy="312.50" r="1.95" fill="#5c1a2e" stroke="#111" stroke-width="0.85"/>
<circle cx="386.50" cy="316.50" r="1.95" fill="#5c1a2e" stroke="#111" stroke-width="0.85"/>
<circle cx="391.50" cy="320.00" r="1.95" fill="#5c1a2e" stroke="#111" stroke-width="0.85"/>
<circle cx="394.00" cy="320.00" r="1.95" fill="#5c1a2e" stroke="#111" stroke-width="0.85"/>
<circle cx="389.00" cy="331.70" r="1.95" fill="#5c1a2e" stroke="#111" stroke-width="0.85"/>
<circle cx="389.00" cy="337.50" r="1.95" fill="#5c1a2e" stroke="#111" stroke-width="0.85"/>
<circle cx="389.00" cy="349.60" r="1.95" fill="#5c1a2e" stroke="#111" stroke-width="0.85"/>
<circle cx="389.00" cy="355.40" r="1.95" fill="#5c1a2e" stroke="#111" stroke-width="0.85"/>
<circle cx="388.00" cy="318.50" r="1.95" fill="#5c1a2e" stroke="#111" stroke-width="0.85"/>
<rect x="394.50" y="356.50" width="3" height="3" fill="#1e3050" stroke="#111" stroke-width="0.8"/>
<rect x="398.50" y="357.00" width="3" height="3" fill="#1e3050" stroke="#111" stroke-width="0.8"/>
<rect x="397.00" y="360.50" width="3" height="3" fill="#1e3050" stroke="#111" stroke-width="0.8"/>
<rect x="395.00" y="363.50" width="3" height="3" fill="#1e3050" stroke="#111" stroke-width="0.8"/>
<rect x="399.00" y="364.00" width="3" height="3" fill="#1e3050" stroke="#111" stroke-width="0.8"/>
<rect x="397.20" y="367.50" width="3" height="3" fill="#1e3050" stroke="#111" stroke-width="0.8"/>
<rect x="394.00" y="360.00" width="3" height="3" fill="#1e3050" stroke="#111" stroke-width="0.8"/>
<rect x="400.00" y="359.70" width="3" height="3" fill="#1e3050" stroke="#111" stroke-width="0.8"/>
<rect x="404.40" y="371.8" width="8.6" height="2" rx="1" fill="#2a4a2a"/>
<rect x="424.10" y="371.8" width="8.6" height="2" rx="1" fill="#c89040"/>
<rect x="433.90" y="371.8" width="8.6" height="2" rx="1" fill="#2a3a32"/>
<polygon points="416.5,368 421,368 418.7,371.5" fill="#3a2a6a"/>
<rect x="417.45" y="371.25" width="2.5" height="2.5" fill="#fff" stroke="#3a2a6a" stroke-width="0.7"/>
<circle cx="447.00" cy="363.50" r="1.5" fill="#fff" stroke="#111" stroke-width="0.7"/>
<circle cx="446.00" cy="368.30" r="1.5" fill="#fff" stroke="#111" stroke-width="0.7"/>
<circle cx="448.50" cy="368.30" r="1.5" fill="#fff" stroke="#111" stroke-width="0.7"/>
<circle cx="451.00" cy="368.30" r="1.5" fill="#fff" stroke="#111" stroke-width="0.7"/>
<line x1="444.50" y1="369.50" x2="452.50" y2="369.50" stroke="#111" stroke-width="1"/>
<polygon points="457.4,363.3 459.4,366.8 455.4,366.8" fill="#fff" stroke="#666" stroke-width="0.6"/>
<polygon points="455.8,367.3 457.8,370.8 453.8,370.8" fill="#fff" stroke="#666" stroke-width="0.6"/>
<polygon points="459,367.3 461,370.8 457,370.8" fill="#fff" stroke="#666" stroke-width="0.6"/>
<line x1="453.50" y1="370.50" x2="461.50" y2="370.50" stroke="#333" stroke-width="1"/>
<line x1="464.50" y1="355.70" x2="471.30" y2="355.70" stroke="#4a6a9a" stroke-width="1"/>
<polygon points="467.9,354.2 469.4,355.7 467.9,357.2 466.4,355.7" fill="#4a6a9a"/>
<line x1="474.50" y1="338.90" x2="481.30" y2="338.90" stroke="#8b1a5a" stroke-width="1"/>
<polygon points="477.9,336.5 480.29999999999995,338.9 477.9,341.29999999999995 475.5,338.9" fill="#8b1a5a"/>
<line x1="485.00" y1="363.30" x2="491.50" y2="363.30" stroke="#3a2010" stroke-width="1"/>
<polygon points="488.2,361.5 490.0,363.3 488.2,365.1 486.4,363.3" fill="#3a2010"/>
<polygon points="494.00,300.40 494.69,302.05 496.47,302.20 495.11,303.36 495.53,305.10 494.00,304.17 492.47,305.10 492.89,303.36 491.53,302.20 493.31,302.05" fill="#cfc796"/>
<polygon points="499.50,299.40 500.19,301.05 501.97,301.20 500.61,302.36 501.03,304.10 499.50,303.17 497.97,304.10 498.39,302.36 497.03,301.20 498.81,301.05" fill="#cfc796"/>
<polygon points="497.30,331.20 497.99,332.85 499.77,333.00 498.41,334.16 498.83,335.90 497.30,334.97 495.77,335.90 496.19,334.16 494.83,333.00 496.61,332.85" fill="#cfc796"/>
<polygon points="497.30,355.00 497.99,356.65 499.77,356.80 498.41,357.96 498.83,359.70 497.30,358.77 495.77,359.70 496.19,357.96 494.83,356.80 496.61,356.65" fill="#cfc796"/>
<line x1="493.00" y1="303.50" x2="502.00" y2="303.50" stroke="#3a3a2a" stroke-width="1.2"/>
<rect x="506.00" y="293.60" width="2.8" height="2.8" fill="#5a3c20" stroke="#3a2a10" stroke-width="0.3"/>
<rect x="506.00" y="302.40" width="2.8" height="2.8" fill="#5a3c20" stroke="#3a2a10" stroke-width="0.3"/>
<rect x="506.00" y="333.20" width="2.8" height="2.8" fill="#5a3c20" stroke="#3a2a10" stroke-width="0.3"/>
<rect x="506.00" y="349.00" width="2.8" height="2.8" fill="#5a3c20" stroke="#3a2a10" stroke-width="0.3"/>
<rect x="506.00" y="355.10" width="2.8" height="2.8" fill="#5a3c20" stroke="#3a2a10" stroke-width="0.3"/>
<rect x="506.00" y="364.80" width="2.8" height="2.8" fill="#5a3c20" stroke="#3a2a10" stroke-width="0.3"/>
<line x1="504.30" y1="342.50" x2="510.80" y2="342.50" stroke="#2a3a5a" stroke-width="1.2"/>
<text x="7.60" y="457.50" font-size="12" text-anchor="start" fill="#000" font-weight="bold">D</text>
<line x1="42.00" y1="482.60" x2="42.00" y2="582.40" stroke="#111" stroke-width="1.6"/>
<line x1="39.10" y1="582.40" x2="42.00" y2="582.40" stroke="#111" stroke-width="1"/>
<text x="35.90" y="584.63" font-size="6.2" text-anchor="end" fill="#3a3a3a" textLength="3.72" lengthAdjust="spacingAndGlyphs">0</text>
<line x1="39.10" y1="563.01" x2="42.00" y2="563.01" stroke="#111" stroke-width="1"/>
<text x="35.90" y="565.24" font-size="6.2" text-anchor="end" fill="#3a3a3a" textLength="7.45" lengthAdjust="spacingAndGlyphs">20</text>
<line x1="39.10" y1="543.62" x2="42.00" y2="543.62" stroke="#111" stroke-width="1"/>
<text x="35.90" y="545.85" font-size="6.2" text-anchor="end" fill="#3a3a3a" textLength="7.45" lengthAdjust="spacingAndGlyphs">40</text>
<line x1="39.10" y1="524.23" x2="42.00" y2="524.23" stroke="#111" stroke-width="1"/>
<text x="35.90" y="526.46" font-size="6.2" text-anchor="end" fill="#3a3a3a" textLength="7.45" lengthAdjust="spacingAndGlyphs">60</text>
<line x1="39.10" y1="504.84" x2="42.00" y2="504.84" stroke="#111" stroke-width="1"/>
<text x="35.90" y="507.07" font-size="6.2" text-anchor="end" fill="#3a3a3a" textLength="7.45" lengthAdjust="spacingAndGlyphs">80</text>
<line x1="39.10" y1="485.45" x2="42.00" y2="485.45" stroke="#111" stroke-width="1"/>
<text x="35.90" y="487.68" font-size="6.2" text-anchor="end" fill="#3a3a3a" textLength="11.17" lengthAdjust="spacingAndGlyphs">100</text>
<line x1="41.20" y1="582.40" x2="137.50" y2="582.40" stroke="#111" stroke-width="1.6"/>
<text x="17.90" y="531.60" font-size="7.3" text-anchor="middle" fill="#1a1a1a" transform="rotate(-90 17.90 531.60)" textLength="55.80" lengthAdjust="spacingAndGlyphs" stroke="#1a1a1a" stroke-width="0.3">Percent positive cells</text>
<text x="90.60" y="454.70" font-size="6.6" text-anchor="middle" fill="#111" font-weight="bold">% positivity in LSC</text>
<path d="M63.2,487.4 L63.2,480 L112.6,480 L112.6,487.4" fill="none" stroke="#111" stroke-width="1.1"/>
<text x="87.90" y="473.90" font-size="6.5" text-anchor="middle" fill="#2a2a2a">P = 0.0002</text>
<text x="66.00" y="594.60" font-size="6.9" text-anchor="middle" fill="#3a3a3a">CD33</text>
<line x1="66.30" y1="582.40" x2="66.30" y2="585.40" stroke="#111" stroke-width="1"/>
<line x1="114.20" y1="582.40" x2="114.20" y2="585.40" stroke="#111" stroke-width="1"/>
<text x="113.90" y="594.60" font-size="6.9" text-anchor="middle" fill="#3a3a3a">CLL1</text>
<circle cx="66.30" cy="516.40" r="2.1" fill="white" stroke="#a8203f" stroke-width="1.1"/>
<circle cx="66.30" cy="533.30" r="2.1" fill="white" stroke="#a8203f" stroke-width="1.1"/>
<circle cx="66.30" cy="544.10" r="2.1" fill="white" stroke="#a8203f" stroke-width="1.1"/>
<circle cx="60.20" cy="548.20" r="2.1" fill="white" stroke="#a8203f" stroke-width="1.1"/>
<circle cx="74.90" cy="551.40" r="2.1" fill="white" stroke="#a8203f" stroke-width="1.1"/>
<circle cx="66.30" cy="552.50" r="2.1" fill="white" stroke="#a8203f" stroke-width="1.1"/>
<circle cx="71.50" cy="556.80" r="2.1" fill="white" stroke="#a8203f" stroke-width="1.1"/>
<circle cx="60.20" cy="560.30" r="2.1" fill="white" stroke="#a8203f" stroke-width="1.1"/>
<circle cx="57.00" cy="563.30" r="2.1" fill="white" stroke="#a8203f" stroke-width="1.1"/>
<circle cx="74.90" cy="562.20" r="2.1" fill="white" stroke="#a8203f" stroke-width="1.1"/>
<circle cx="63.50" cy="566.80" r="2.1" fill="white" stroke="#a8203f" stroke-width="1.1"/>
<circle cx="69.30" cy="566.80" r="2.1" fill="white" stroke="#a8203f" stroke-width="1.1"/>
<circle cx="52.70" cy="572.00" r="2.1" fill="white" stroke="#a8203f" stroke-width="1.1"/>
<circle cx="79.70" cy="572.60" r="2.1" fill="white" stroke="#a8203f" stroke-width="1.1"/>
<circle cx="58.00" cy="574.10" r="2.1" fill="white" stroke="#a8203f" stroke-width="1.1"/>
<circle cx="74.30" cy="573.70" r="2.1" fill="white" stroke="#a8203f" stroke-width="1.1"/>
<circle cx="63.50" cy="576.90" r="2.1" fill="white" stroke="#a8203f" stroke-width="1.1"/>
<circle cx="68.90" cy="576.90" r="2.1" fill="white" stroke="#a8203f" stroke-width="1.1"/>
<circle cx="53.80" cy="578.40" r="2.1" fill="white" stroke="#a8203f" stroke-width="1.1"/>
<circle cx="78.60" cy="578.40" r="2.1" fill="white" stroke="#a8203f" stroke-width="1.1"/>
<circle cx="60.20" cy="581.20" r="2.1" fill="white" stroke="#a8203f" stroke-width="1.1"/>
<circle cx="72.10" cy="581.20" r="2.1" fill="white" stroke="#a8203f" stroke-width="1.1"/>
<circle cx="57.00" cy="582.00" r="2.1" fill="white" stroke="#a8203f" stroke-width="1.1"/>
<circle cx="62.00" cy="582.50" r="2.1" fill="white" stroke="#a8203f" stroke-width="1.1"/>
<circle cx="66.50" cy="582.50" r="2.1" fill="white" stroke="#a8203f" stroke-width="1.1"/>
<circle cx="71.00" cy="582.00" r="2.1" fill="white" stroke="#a8203f" stroke-width="1.1"/>
<circle cx="75.00" cy="581.50" r="2.1" fill="white" stroke="#a8203f" stroke-width="1.1"/>
<circle cx="59.00" cy="583.30" r="2.1" fill="white" stroke="#a8203f" stroke-width="1.1"/>
<circle cx="61.50" cy="584.00" r="2.1" fill="white" stroke="#a8203f" stroke-width="1.1"/>
<circle cx="64.00" cy="584.30" r="2.1" fill="white" stroke="#a8203f" stroke-width="1.1"/>
<circle cx="67.00" cy="584.30" r="2.1" fill="white" stroke="#a8203f" stroke-width="1.1"/>
<circle cx="70.00" cy="584.00" r="2.1" fill="white" stroke="#a8203f" stroke-width="1.1"/>
<circle cx="72.70" cy="583.30" r="2.1" fill="white" stroke="#a8203f" stroke-width="1.1"/>
<circle cx="60.00" cy="580.20" r="2.1" fill="white" stroke="#a8203f" stroke-width="1.1"/>
<circle cx="63.50" cy="580.50" r="2.1" fill="white" stroke="#a8203f" stroke-width="1.1"/>
<circle cx="67.50" cy="580.50" r="2.1" fill="white" stroke="#a8203f" stroke-width="1.1"/>
<circle cx="70.50" cy="580.20" r="2.1" fill="white" stroke="#a8203f" stroke-width="1.1"/>
<circle cx="65.00" cy="582.80" r="2.1" fill="white" stroke="#a8203f" stroke-width="1.1"/>
<circle cx="68.50" cy="582.80" r="2.1" fill="white" stroke="#a8203f" stroke-width="1.1"/>
<line x1="66.30" y1="560.70" x2="66.30" y2="582.00" stroke="#111" stroke-width="1.3"/>
<line x1="60.20" y1="560.70" x2="73.20" y2="560.70" stroke="#111" stroke-width="1.3"/>
<line x1="50.50" y1="574.80" x2="81.80" y2="574.80" stroke="#111" stroke-width="1.5"/>
<circle cx="114.20" cy="491.20" r="2.1" fill="#2e4570" stroke="#1c2844" stroke-width="0.5"/>
<circle cx="110.90" cy="495.50" r="2.1" fill="#2e4570" stroke="#1c2844" stroke-width="0.5"/>
<circle cx="117.40" cy="497.60" r="2.1" fill="#2e4570" stroke="#1c2844" stroke-width="0.5"/>
<circle cx="102.30" cy="502.40" r="2.1" fill="#2e4570" stroke="#1c2844" stroke-width="0.5"/>
<circle cx="107.70" cy="503.50" r="2.1" fill="#2e4570" stroke="#1c2844" stroke-width="0.5"/>
<circle cx="114.20" cy="504.00" r="2.1" fill="#2e4570" stroke="#1c2844" stroke-width="0.5"/>
<circle cx="119.60" cy="503.50" r="2.1" fill="#2e4570" stroke="#1c2844" stroke-width="0.5"/>
<circle cx="125.60" cy="502.40" r="2.1" fill="#2e4570" stroke="#1c2844" stroke-width="0.5"/>
<circle cx="114.20" cy="516.40" r="2.1" fill="#2e4570" stroke="#1c2844" stroke-width="0.5"/>
<circle cx="114.20" cy="525.70" r="2.1" fill="#2e4570" stroke="#1c2844" stroke-width="0.5"/>
<circle cx="110.90" cy="536.50" r="2.1" fill="#2e4570" stroke="#1c2844" stroke-width="0.5"/>
<circle cx="117.40" cy="539.10" r="2.1" fill="#2e4570" stroke="#1c2844" stroke-width="0.5"/>
<circle cx="122.80" cy="543.00" r="2.1" fill="#2e4570" stroke="#1c2844" stroke-width="0.5"/>
<circle cx="102.30" cy="545.60" r="2.1" fill="#2e4570" stroke="#1c2844" stroke-width="0.5"/>
<circle cx="107.70" cy="545.60" r="2.1" fill="#2e4570" stroke="#1c2844" stroke-width="0.5"/>
<circle cx="113.00" cy="545.60" r="2.1" fill="#2e4570" stroke="#1c2844" stroke-width="0.5"/>
<circle cx="117.40" cy="545.60" r="2.1" fill="#2e4570" stroke="#1c2844" stroke-width="0.5"/>
<circle cx="110.90" cy="550.30" r="2.1" fill="#2e4570" stroke="#1c2844" stroke-width="0.5"/>
<circle cx="116.30" cy="552.00" r="2.1" fill="#2e4570" stroke="#1c2844" stroke-width="0.5"/>
<circle cx="102.30" cy="555.30" r="2.1" fill="#2e4570" stroke="#1c2844" stroke-width="0.5"/>
<circle cx="107.70" cy="555.30" r="2.1" fill="#2e4570" stroke="#1c2844" stroke-width="0.5"/>
<circle cx="119.60" cy="555.30" r="2.1" fill="#2e4570" stroke="#1c2844" stroke-width="0.5"/>
<circle cx="126.00" cy="555.30" r="2.1" fill="#2e4570" stroke="#1c2844" stroke-width="0.5"/>
<circle cx="114.20" cy="560.70" r="2.1" fill="#2e4570" stroke="#1c2844" stroke-width="0.5"/>
<circle cx="101.20" cy="576.30" r="2.1" fill="#2e4570" stroke="#1c2844" stroke-width="0.5"/>
<circle cx="110.90" cy="574.80" r="2.1" fill="#2e4570" stroke="#1c2844" stroke-width="0.5"/>
<circle cx="117.40" cy="574.80" r="2.1" fill="#2e4570" stroke="#1c2844" stroke-width="0.5"/>
<circle cx="127.10" cy="576.30" r="2.1" fill="#2e4570" stroke="#1c2844" stroke-width="0.5"/>
<circle cx="105.50" cy="581.30" r="2.1" fill="#2e4570" stroke="#1c2844" stroke-width="0.5"/>
<circle cx="109.80" cy="581.80" r="2.1" fill="#2e4570" stroke="#1c2844" stroke-width="0.5"/>
<circle cx="114.20" cy="582.00" r="2.1" fill="#2e4570" stroke="#1c2844" stroke-width="0.5"/>
<circle cx="118.50" cy="581.80" r="2.1" fill="#2e4570" stroke="#1c2844" stroke-width="0.5"/>
<circle cx="122.50" cy="581.00" r="2.1" fill="#2e4570" stroke="#1c2844" stroke-width="0.5"/>
<line x1="114.20" y1="504.60" x2="114.20" y2="574.00" stroke="#111" stroke-width="1.4"/>
<line x1="105.50" y1="504.60" x2="121.70" y2="504.60" stroke="#111" stroke-width="1.4"/>
<line x1="105.50" y1="574.00" x2="121.70" y2="574.00" stroke="#111" stroke-width="1.4"/>
<line x1="98.40" y1="546.00" x2="129.90" y2="546.00" stroke="#111" stroke-width="1.6"/>
<text x="228.10" y="453.80" font-size="6.6" text-anchor="middle" fill="#111" font-weight="bold">MFI in LSC</text>
<path d="M203.3,484.7 L203.3,476.9 L252.9,476.9 L252.9,484.7" fill="none" stroke="#111" stroke-width="1.1"/>
<text x="228.10" y="472.80" font-size="6.5" text-anchor="middle" fill="#2a2a2a">P = 0.007</text>
<line x1="181.00" y1="487.50" x2="181.00" y2="514.90" stroke="#111" stroke-width="1.6"/>
<line x1="181.00" y1="522.30" x2="181.00" y2="582.40" stroke="#111" stroke-width="1.6"/>
<line x1="178.10" y1="489.50" x2="181.00" y2="489.50" stroke="#111" stroke-width="1"/>
<text x="175.00" y="491.73" font-size="6.2" text-anchor="end" fill="#3a3a3a" textLength="7.45" lengthAdjust="spacingAndGlyphs">60</text>
<line x1="178.10" y1="501.10" x2="181.00" y2="501.10" stroke="#111" stroke-width="1"/>
<text x="175.00" y="503.33" font-size="6.2" text-anchor="end" fill="#3a3a3a" textLength="7.45" lengthAdjust="spacingAndGlyphs">40</text>
<line x1="178.10" y1="512.80" x2="181.00" y2="512.80" stroke="#111" stroke-width="1"/>
<text x="175.00" y="515.03" font-size="6.2" text-anchor="end" fill="#3a3a3a" textLength="7.45" lengthAdjust="spacingAndGlyphs">20</text>
<line x1="178.10" y1="522.30" x2="181.00" y2="522.30" stroke="#111" stroke-width="1"/>
<text x="175.00" y="524.53" font-size="6.2" text-anchor="end" fill="#3a3a3a" textLength="7.45" lengthAdjust="spacingAndGlyphs">15</text>
<line x1="178.10" y1="542.40" x2="181.00" y2="542.40" stroke="#111" stroke-width="1"/>
<text x="175.00" y="544.63" font-size="6.2" text-anchor="end" fill="#3a3a3a" textLength="7.45" lengthAdjust="spacingAndGlyphs">10</text>
<line x1="178.10" y1="562.50" x2="181.00" y2="562.50" stroke="#111" stroke-width="1"/>
<text x="175.00" y="564.73" font-size="6.2" text-anchor="end" fill="#3a3a3a" textLength="3.72" lengthAdjust="spacingAndGlyphs">5</text>
<line x1="178.10" y1="582.40" x2="181.00" y2="582.40" stroke="#111" stroke-width="1"/>
<text x="175.00" y="584.63" font-size="6.2" text-anchor="end" fill="#3a3a3a" textLength="3.72" lengthAdjust="spacingAndGlyphs">0</text>
<line x1="180.20" y1="582.40" x2="274.00" y2="582.40" stroke="#111" stroke-width="1.6"/>
<text x="161.90" y="533.70" font-size="7.5" text-anchor="middle" fill="#1a1a1a" transform="rotate(-90 161.90 533.70)" textLength="33.80" lengthAdjust="spacingAndGlyphs" stroke="#1a1a1a" stroke-width="0.3">Relative MFI</text>
<line x1="178.50" y1="514.90" x2="183.50" y2="514.90" stroke="#111" stroke-width="1.3"/>
<line x1="178.50" y1="522.30" x2="183.50" y2="522.30" stroke="#111" stroke-width="1.3"/>
<text x="204.90" y="594.60" font-size="6.9" text-anchor="middle" fill="#3a3a3a">CD33</text>
<line x1="204.00" y1="582.40" x2="204.00" y2="585.40" stroke="#111" stroke-width="1"/>
<line x1="250.10" y1="582.40" x2="250.10" y2="585.40" stroke="#111" stroke-width="1"/>
<text x="250.30" y="594.60" font-size="6.9" text-anchor="middle" fill="#3a3a3a">CLL1</text>
<circle cx="204.90" cy="530.30" r="2.1" fill="white" stroke="#a8203f" stroke-width="1.1"/>
<circle cx="207.60" cy="549.80" r="2.1" fill="white" stroke="#a8203f" stroke-width="1.1"/>
<circle cx="201.30" cy="553.10" r="2.1" fill="white" stroke="#a8203f" stroke-width="1.1"/>
<circle cx="193.30" cy="564.10" r="2.1" fill="white" stroke="#a8203f" stroke-width="1.1"/>
<circle cx="201.30" cy="562.90" r="2.1" fill="white" stroke="#a8203f" stroke-width="1.1"/>
<circle cx="207.60" cy="562.90" r="2.1" fill="white" stroke="#a8203f" stroke-width="1.1"/>
<circle cx="215.50" cy="566.30" r="2.1" fill="white" stroke="#a8203f" stroke-width="1.1"/>
<circle cx="198.50" cy="567.10" r="2.1" fill="white" stroke="#a8203f" stroke-width="1.1"/>
<circle cx="191.10" cy="571.30" r="2.1" fill="white" stroke="#a8203f" stroke-width="1.1"/>
<circle cx="196.40" cy="572.00" r="2.1" fill="white" stroke="#a8203f" stroke-width="1.1"/>
<circle cx="201.70" cy="573.00" r="2.1" fill="white" stroke="#a8203f" stroke-width="1.1"/>
<circle cx="207.00" cy="573.00" r="2.1" fill="white" stroke="#a8203f" stroke-width="1.1"/>
<circle cx="211.20" cy="571.00" r="2.1" fill="white" stroke="#a8203f" stroke-width="1.1"/>
<circle cx="217.60" cy="570.50" r="2.1" fill="white" stroke="#a8203f" stroke-width="1.1"/>
<circle cx="194.30" cy="579.00" r="2.1" fill="white" stroke="#a8203f" stroke-width="1.1"/>
<circle cx="199.60" cy="579.30" r="2.1" fill="white" stroke="#a8203f" stroke-width="1.1"/>
<circle cx="204.90" cy="579.30" r="2.1" fill="white" stroke="#a8203f" stroke-width="1.1"/>
<circle cx="210.20" cy="579.00" r="2.1" fill="white" stroke="#a8203f" stroke-width="1.1"/>
<circle cx="214.40" cy="578.40" r="2.1" fill="white" stroke="#a8203f" stroke-width="1.1"/>
<circle cx="204.00" cy="583.00" r="2.1" fill="white" stroke="#a8203f" stroke-width="1.1"/>
<circle cx="193.50" cy="574.80" r="2.1" fill="white" stroke="#a8203f" stroke-width="1.1"/>
<circle cx="197.50" cy="575.50" r="2.1" fill="white" stroke="#a8203f" stroke-width="1.1"/>
<circle cx="202.00" cy="576.00" r="2.1" fill="white" stroke="#a8203f" stroke-width="1.1"/>
<circle cx="206.50" cy="576.00" r="2.1" fill="white" stroke="#a8203f" stroke-width="1.1"/>
<circle cx="210.50" cy="575.50" r="2.1" fill="white" stroke="#a8203f" stroke-width="1.1"/>
<circle cx="214.50" cy="574.50" r="2.1" fill="white" stroke="#a8203f" stroke-width="1.1"/>
<circle cx="204.00" cy="571.50" r="2.1" fill="white" stroke="#a8203f" stroke-width="1.1"/>
<circle cx="199.00" cy="570.50" r="2.1" fill="white" stroke="#a8203f" stroke-width="1.1"/>
<circle cx="209.00" cy="570.80" r="2.1" fill="white" stroke="#a8203f" stroke-width="1.1"/>
<circle cx="201.50" cy="583.50" r="2.1" fill="white" stroke="#a8203f" stroke-width="1.1"/>
<circle cx="206.50" cy="583.30" r="2.1" fill="white" stroke="#a8203f" stroke-width="1.1"/>
<line x1="204.90" y1="566.70" x2="204.90" y2="582.00" stroke="#111" stroke-width="1.3"/>
<line x1="196.40" y1="566.70" x2="213.30" y2="566.70" stroke="#111" stroke-width="1.3"/>
<line x1="188.60" y1="574.10" x2="220.70" y2="574.10" stroke="#111" stroke-width="1.5"/>
<circle cx="250.30" cy="492.30" r="2.1" fill="#2e4570" stroke="#1c2844" stroke-width="0.5"/>
<circle cx="250.30" cy="499.50" r="2.1" fill="#2e4570" stroke="#1c2844" stroke-width="0.5"/>
<circle cx="241.90" cy="510.00" r="2.1" fill="#2e4570" stroke="#1c2844" stroke-width="0.5"/>
<circle cx="248.20" cy="511.70" r="2.1" fill="#2e4570" stroke="#1c2844" stroke-width="0.5"/>
<circle cx="253.50" cy="513.40" r="2.1" fill="#2e4570" stroke="#1c2844" stroke-width="0.5"/>
<circle cx="258.80" cy="511.30" r="2.1" fill="#2e4570" stroke="#1c2844" stroke-width="0.5"/>
<circle cx="250.30" cy="525.50" r="2.1" fill="#2e4570" stroke="#1c2844" stroke-width="0.5"/>
<circle cx="247.20" cy="537.10" r="2.1" fill="#2e4570" stroke="#1c2844" stroke-width="0.5"/>
<circle cx="253.50" cy="542.40" r="2.1" fill="#2e4570" stroke="#1c2844" stroke-width="0.5"/>
<circle cx="241.90" cy="554.00" r="2.1" fill="#2e4570" stroke="#1c2844" stroke-width="0.5"/>
<circle cx="247.20" cy="556.10" r="2.1" fill="#2e4570" stroke="#1c2844" stroke-width="0.5"/>
<circle cx="253.50" cy="555.70" r="2.1" fill="#2e4570" stroke="#1c2844" stroke-width="0.5"/>
<circle cx="258.80" cy="553.60" r="2.1" fill="#2e4570" stroke="#1c2844" stroke-width="0.5"/>
<circle cx="244.00" cy="561.40" r="2.1" fill="#2e4570" stroke="#1c2844" stroke-width="0.5"/>
<circle cx="250.30" cy="562.50" r="2.1" fill="#2e4570" stroke="#1c2844" stroke-width="0.5"/>
<circle cx="257.70" cy="563.50" r="2.1" fill="#2e4570" stroke="#1c2844" stroke-width="0.5"/>
<circle cx="237.70" cy="571.30" r="2.1" fill="#2e4570" stroke="#1c2844" stroke-width="0.5"/>
<circle cx="244.00" cy="569.80" r="2.1" fill="#2e4570" stroke="#1c2844" stroke-width="0.5"/>
<circle cx="250.30" cy="570.90" r="2.1" fill="#2e4570" stroke="#1c2844" stroke-width="0.5"/>
<circle cx="256.70" cy="569.80" r="2.1" fill="#2e4570" stroke="#1c2844" stroke-width="0.5"/>
<circle cx="263.00" cy="572.60" r="2.1" fill="#2e4570" stroke="#1c2844" stroke-width="0.5"/>
<circle cx="241.90" cy="576.80" r="2.1" fill="#2e4570" stroke="#1c2844" stroke-width="0.5"/>
<circle cx="247.20" cy="576.20" r="2.1" fill="#2e4570" stroke="#1c2844" stroke-width="0.5"/>
<circle cx="253.50" cy="576.80" r="2.1" fill="#2e4570" stroke="#1c2844" stroke-width="0.5"/>
<circle cx="258.80" cy="576.20" r="2.1" fill="#2e4570" stroke="#1c2844" stroke-width="0.5"/>
<circle cx="248.20" cy="581.50" r="2.1" fill="#2e4570" stroke="#1c2844" stroke-width="0.5"/>
<line x1="250.30" y1="536.70" x2="250.30" y2="578.00" stroke="#111" stroke-width="1.4"/>
<line x1="241.90" y1="536.70" x2="258.80" y2="536.70" stroke="#111" stroke-width="1.4"/>
<line x1="234.50" y1="565.00" x2="266.20" y2="565.00" stroke="#111" stroke-width="1.6"/>
<text x="300.30" y="457.20" font-size="12" text-anchor="start" fill="#000" font-weight="bold">E</text>
<text x="382.60" y="456.00" font-size="6.6" text-anchor="middle" fill="#111" font-weight="bold">Copy number in AML Blast</text>
<path d="M357.4,478.5 L357.4,472.3 L406.4,472.3 L406.4,478.5" fill="none" stroke="#111" stroke-width="1.1"/>
<text x="381.90" y="467.10" font-size="6.5" text-anchor="middle" fill="#2a2a2a">P = 0.37</text>
<line x1="343.20" y1="479.50" x2="343.20" y2="505.20" stroke="#111" stroke-width="1.6"/>
<line x1="343.20" y1="511.90" x2="343.20" y2="582.30" stroke="#111" stroke-width="1.6"/>
<line x1="340.30" y1="481.80" x2="343.20" y2="481.80" stroke="#111" stroke-width="1"/>
<text x="338.50" y="484.07" font-size="6.3" text-anchor="end" fill="#3a3a3a" textLength="24.14" lengthAdjust="spacingAndGlyphs">150,000</text>
<line x1="340.30" y1="492.60" x2="343.20" y2="492.60" stroke="#111" stroke-width="1"/>
<text x="338.50" y="494.87" font-size="6.3" text-anchor="end" fill="#3a3a3a" textLength="24.14" lengthAdjust="spacingAndGlyphs">100,000</text>
<line x1="340.30" y1="502.80" x2="343.20" y2="502.80" stroke="#111" stroke-width="1"/>
<text x="338.50" y="505.07" font-size="6.3" text-anchor="end" fill="#3a3a3a" textLength="20.42" lengthAdjust="spacingAndGlyphs">50,000</text>
<line x1="340.30" y1="511.90" x2="343.20" y2="511.90" stroke="#111" stroke-width="1"/>
<text x="338.50" y="514.17" font-size="6.3" text-anchor="end" fill="#3a3a3a" textLength="20.42" lengthAdjust="spacingAndGlyphs">40,000</text>
<line x1="340.30" y1="529.40" x2="343.20" y2="529.40" stroke="#111" stroke-width="1"/>
<text x="338.50" y="531.67" font-size="6.3" text-anchor="end" fill="#3a3a3a" textLength="20.42" lengthAdjust="spacingAndGlyphs">30,000</text>
<line x1="340.30" y1="547.10" x2="343.20" y2="547.10" stroke="#111" stroke-width="1"/>
<text x="338.50" y="549.37" font-size="6.3" text-anchor="end" fill="#3a3a3a" textLength="20.42" lengthAdjust="spacingAndGlyphs">20,000</text>
<line x1="340.30" y1="564.80" x2="343.20" y2="564.80" stroke="#111" stroke-width="1"/>
<text x="338.50" y="567.07" font-size="6.3" text-anchor="end" fill="#3a3a3a" textLength="20.42" lengthAdjust="spacingAndGlyphs">10,000</text>
<line x1="340.30" y1="582.30" x2="343.20" y2="582.30" stroke="#111" stroke-width="1"/>
<text x="338.50" y="584.57" font-size="6.3" text-anchor="end" fill="#3a3a3a" textLength="3.71" lengthAdjust="spacingAndGlyphs">0</text>
<line x1="342.40" y1="582.30" x2="422.30" y2="582.30" stroke="#111" stroke-width="1.6"/>
<text x="305.60" y="530.80" font-size="7.3" text-anchor="middle" fill="#1a1a1a" transform="rotate(-90 305.60 530.80)" textLength="60.40" lengthAdjust="spacingAndGlyphs" stroke="#1a1a1a" stroke-width="0.3">Receptor copy number</text>
<line x1="340.70" y1="505.20" x2="345.70" y2="505.20" stroke="#111" stroke-width="1.3"/>
<line x1="340.70" y1="511.90" x2="345.70" y2="511.90" stroke="#111" stroke-width="1.3"/>
<text x="362.70" y="594.40" font-size="6.9" text-anchor="middle" fill="#3a3a3a">CD33</text>
<line x1="363.10" y1="582.30" x2="363.10" y2="585.40" stroke="#111" stroke-width="1"/>
<line x1="402.30" y1="582.30" x2="402.30" y2="585.40" stroke="#111" stroke-width="1"/>
<text x="401.50" y="594.40" font-size="6.9" text-anchor="middle" fill="#3a3a3a">CLL1</text>
<circle cx="363.30" cy="493.40" r="2.1" fill="white" stroke="#a8203f" stroke-width="1.1"/>
<circle cx="354.70" cy="503.30" r="2.1" fill="white" stroke="#a8203f" stroke-width="1.1"/>
<circle cx="360.00" cy="504.10" r="2.1" fill="white" stroke="#a8203f" stroke-width="1.1"/>
<circle cx="366.30" cy="504.10" r="2.1" fill="white" stroke="#a8203f" stroke-width="1.1"/>
<circle cx="371.40" cy="502.00" r="2.1" fill="white" stroke="#a8203f" stroke-width="1.1"/>
<circle cx="363.10" cy="522.70" r="2.1" fill="white" stroke="#a8203f" stroke-width="1.1"/>
<circle cx="359.80" cy="529.80" r="2.1" fill="white" stroke="#a8203f" stroke-width="1.1"/>
<circle cx="366.20" cy="529.80" r="2.1" fill="white" stroke="#a8203f" stroke-width="1.1"/>
<circle cx="359.80" cy="541.30" r="2.1" fill="white" stroke="#a8203f" stroke-width="1.1"/>
<circle cx="368.50" cy="543.30" r="2.1" fill="white" stroke="#a8203f" stroke-width="1.1"/>
<circle cx="371.30" cy="545.80" r="2.1" fill="white" stroke="#a8203f" stroke-width="1.1"/>
<circle cx="354.60" cy="547.10" r="2.1" fill="white" stroke="#a8203f" stroke-width="1.1"/>
<circle cx="359.80" cy="550.40" r="2.1" fill="white" stroke="#a8203f" stroke-width="1.1"/>
<circle cx="365.60" cy="549.60" r="2.1" fill="white" stroke="#a8203f" stroke-width="1.1"/>
<circle cx="359.80" cy="559.60" r="2.1" fill="white" stroke="#a8203f" stroke-width="1.1"/>
<circle cx="368.50" cy="560.00" r="2.1" fill="white" stroke="#a8203f" stroke-width="1.1"/>
<circle cx="371.30" cy="561.50" r="2.1" fill="white" stroke="#a8203f" stroke-width="1.1"/>
<circle cx="354.60" cy="562.50" r="2.1" fill="white" stroke="#a8203f" stroke-width="1.1"/>
<circle cx="365.60" cy="563.50" r="2.1" fill="white" stroke="#a8203f" stroke-width="1.1"/>
<circle cx="360.40" cy="566.30" r="2.1" fill="white" stroke="#a8203f" stroke-width="1.1"/>
<circle cx="352.70" cy="568.30" r="2.1" fill="white" stroke="#a8203f" stroke-width="1.1"/>
<circle cx="357.90" cy="569.60" r="2.1" fill="white" stroke="#a8203f" stroke-width="1.1"/>
<circle cx="368.50" cy="570.20" r="2.1" fill="white" stroke="#a8203f" stroke-width="1.1"/>
<circle cx="373.30" cy="568.30" r="2.1" fill="white" stroke="#a8203f" stroke-width="1.1"/>
<circle cx="362.70" cy="574.00" r="2.1" fill="white" stroke="#a8203f" stroke-width="1.1"/>
<circle cx="352.70" cy="575.40" r="2.1" fill="white" stroke="#a8203f" stroke-width="1.1"/>
<circle cx="357.90" cy="578.80" r="2.1" fill="white" stroke="#a8203f" stroke-width="1.1"/>
<circle cx="368.50" cy="579.80" r="2.1" fill="white" stroke="#a8203f" stroke-width="1.1"/>
<circle cx="373.30" cy="577.30" r="2.1" fill="white" stroke="#a8203f" stroke-width="1.1"/>
<circle cx="362.70" cy="581.70" r="2.1" fill="white" stroke="#a8203f" stroke-width="1.1"/>
<line x1="363.10" y1="529.80" x2="363.10" y2="570.20" stroke="#111" stroke-width="1.3"/>
<line x1="358.00" y1="529.80" x2="368.50" y2="529.80" stroke="#111" stroke-width="1.3"/>
<line x1="358.00" y1="570.20" x2="368.50" y2="570.20" stroke="#111" stroke-width="1.3"/>
<line x1="350.20" y1="559.60" x2="377.10" y2="559.60" stroke="#111" stroke-width="1.5"/>
<circle cx="402.70" cy="488.00" r="2.1" fill="#2e4570" stroke="#1c2844" stroke-width="0.5"/>
<circle cx="402.10" cy="513.80" r="2.1" fill="#2e4570" stroke="#1c2844" stroke-width="0.5"/>
<circle cx="399.60" cy="518.80" r="2.1" fill="#2e4570" stroke="#1c2844" stroke-width="0.5"/>
<circle cx="405.40" cy="522.70" r="2.1" fill="#2e4570" stroke="#1c2844" stroke-width="0.5"/>
<circle cx="393.50" cy="543.80" r="2.1" fill="#2e4570" stroke="#1c2844" stroke-width="0.5"/>
<circle cx="399.20" cy="544.60" r="2.1" fill="#2e4570" stroke="#1c2844" stroke-width="0.5"/>
<circle cx="405.00" cy="545.20" r="2.1" fill="#2e4570" stroke="#1c2844" stroke-width="0.5"/>
<circle cx="411.20" cy="543.80" r="2.1" fill="#2e4570" stroke="#1c2844" stroke-width="0.5"/>
<circle cx="399.60" cy="554.20" r="2.1" fill="#2e4570" stroke="#1c2844" stroke-width="0.5"/>
<circle cx="407.90" cy="557.30" r="2.1" fill="#2e4570" stroke="#1c2844" stroke-width="0.5"/>
<circle cx="394.40" cy="561.50" r="2.1" fill="#2e4570" stroke="#1c2844" stroke-width="0.5"/>
<circle cx="399.20" cy="561.20" r="2.1" fill="#2e4570" stroke="#1c2844" stroke-width="0.5"/>
<circle cx="404.00" cy="561.50" r="2.1" fill="#2e4570" stroke="#1c2844" stroke-width="0.5"/>
<circle cx="408.80" cy="561.20" r="2.1" fill="#2e4570" stroke="#1c2844" stroke-width="0.5"/>
<circle cx="412.70" cy="562.50" r="2.1" fill="#2e4570" stroke="#1c2844" stroke-width="0.5"/>
<circle cx="397.70" cy="565.80" r="2.1" fill="#2e4570" stroke="#1c2844" stroke-width="0.5"/>
<circle cx="402.10" cy="565.00" r="2.1" fill="#2e4570" stroke="#1c2844" stroke-width="0.5"/>
<circle cx="406.50" cy="565.40" r="2.1" fill="#2e4570" stroke="#1c2844" stroke-width="0.5"/>
<circle cx="392.50" cy="571.50" r="2.1" fill="#2e4570" stroke="#1c2844" stroke-width="0.5"/>
<circle cx="397.30" cy="573.50" r="2.1" fill="#2e4570" stroke="#1c2844" stroke-width="0.5"/>
<circle cx="402.10" cy="573.10" r="2.1" fill="#2e4570" stroke="#1c2844" stroke-width="0.5"/>
<circle cx="406.90" cy="573.50" r="2.1" fill="#2e4570" stroke="#1c2844" stroke-width="0.5"/>
<circle cx="412.70" cy="570.20" r="2.1" fill="#2e4570" stroke="#1c2844" stroke-width="0.5"/>
<circle cx="391.90" cy="577.30" r="2.1" fill="#2e4570" stroke="#1c2844" stroke-width="0.5"/>
<circle cx="395.40" cy="577.90" r="2.1" fill="#2e4570" stroke="#1c2844" stroke-width="0.5"/>
<circle cx="399.20" cy="578.80" r="2.1" fill="#2e4570" stroke="#1c2844" stroke-width="0.5"/>
<circle cx="403.00" cy="578.50" r="2.1" fill="#2e4570" stroke="#1c2844" stroke-width="0.5"/>
<circle cx="408.50" cy="578.80" r="2.1" fill="#2e4570" stroke="#1c2844" stroke-width="0.5"/>
<circle cx="412.70" cy="577.90" r="2.1" fill="#2e4570" stroke="#1c2844" stroke-width="0.5"/>
<circle cx="398.30" cy="581.70" r="2.1" fill="#2e4570" stroke="#1c2844" stroke-width="0.5"/>
<circle cx="402.70" cy="582.60" r="2.1" fill="#2e4570" stroke="#1c2844" stroke-width="0.5"/>
<circle cx="406.50" cy="581.70" r="2.1" fill="#2e4570" stroke="#1c2844" stroke-width="0.5"/>
<line x1="402.10" y1="546.20" x2="402.10" y2="575.40" stroke="#111" stroke-width="1.4"/>
<line x1="396.50" y1="546.20" x2="407.70" y2="546.20" stroke="#111" stroke-width="1.4"/>
<line x1="396.50" y1="575.40" x2="407.70" y2="575.40" stroke="#111" stroke-width="1.4"/>
<line x1="389.20" y1="563.50" x2="415.60" y2="563.50" stroke="#111" stroke-width="1.6"/>
</svg>
</body></html>
